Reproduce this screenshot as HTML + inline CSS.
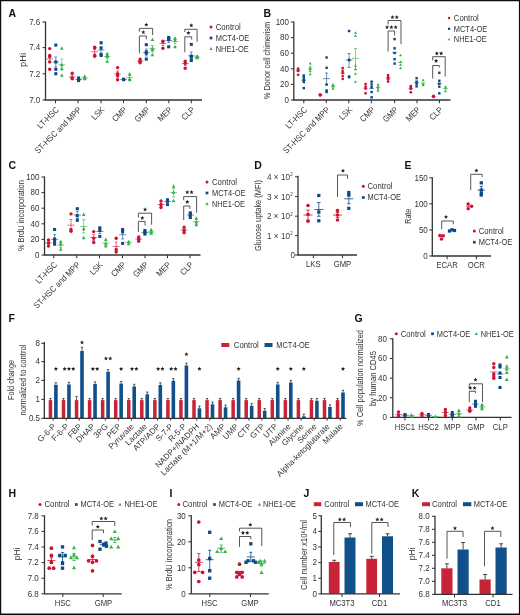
<!DOCTYPE html>
<html><head><meta charset="utf-8"><style>
html,body{margin:0;padding:0;background:#fff;width:520px;height:615px;overflow:hidden}
svg{will-change:transform}
text{font-family:"Liberation Sans", sans-serif}
</style></head><body>
<svg width="520" height="615" viewBox="0 0 520 615" style="display:block">
<rect x="0" y="0" width="520" height="615" fill="#ffffff"/>
<text x="8.5" y="17.2" font-size="10.5" text-anchor="start" font-weight="bold" fill="#111">A</text>
<line x1="45.5" y1="21.5" x2="45.5" y2="100" stroke="#333333" stroke-width="1.3"/>
<line x1="42.5" y1="22" x2="45.5" y2="22" stroke="#333333" stroke-width="1.04"/>
<text x="40.3" y="24.88" font-size="8.6" text-anchor="end" font-weight="normal" fill="#333333" textLength="11.12" lengthAdjust="spacingAndGlyphs">7.6</text>
<line x1="42.5" y1="47.6" x2="45.5" y2="47.6" stroke="#333333" stroke-width="1.04"/>
<text x="40.3" y="50.48" font-size="8.6" text-anchor="end" font-weight="normal" fill="#333333" textLength="11.12" lengthAdjust="spacingAndGlyphs">7.4</text>
<line x1="42.5" y1="73.8" x2="45.5" y2="73.8" stroke="#333333" stroke-width="1.04"/>
<text x="40.3" y="76.68" font-size="8.6" text-anchor="end" font-weight="normal" fill="#333333" textLength="11.12" lengthAdjust="spacingAndGlyphs">7.2</text>
<line x1="42.5" y1="100" x2="45.5" y2="100" stroke="#333333" stroke-width="1.04"/>
<text x="40.3" y="102.88" font-size="8.6" text-anchor="end" font-weight="normal" fill="#333333" textLength="11.12" lengthAdjust="spacingAndGlyphs">7.0</text>
<text x="25.8" y="60" font-size="9" text-anchor="middle" font-weight="normal" fill="#333333" transform="rotate(-90 25.8 60)" textLength="14" lengthAdjust="spacingAndGlyphs">pHi</text>
<line x1="44.85" y1="100" x2="202" y2="100" stroke="#333333" stroke-width="1.3"/>
<line x1="55.5" y1="100" x2="55.5" y2="103.2" stroke="#333333" stroke-width="1.04"/>
<line x1="78" y1="100" x2="78" y2="103.2" stroke="#333333" stroke-width="1.04"/>
<line x1="101" y1="100" x2="101" y2="103.2" stroke="#333333" stroke-width="1.04"/>
<line x1="123.5" y1="100" x2="123.5" y2="103.2" stroke="#333333" stroke-width="1.04"/>
<line x1="146.3" y1="100" x2="146.3" y2="103.2" stroke="#333333" stroke-width="1.04"/>
<line x1="168.8" y1="100" x2="168.8" y2="103.2" stroke="#333333" stroke-width="1.04"/>
<line x1="191.3" y1="100" x2="191.3" y2="103.2" stroke="#333333" stroke-width="1.04"/>
<text x="59.5" y="110.3" font-size="8.6" text-anchor="end" font-weight="normal" fill="#333333" transform="rotate(-45 59.5 110.3)" textLength="26.74" lengthAdjust="spacingAndGlyphs">LT-HSC</text>
<text x="82" y="110.3" font-size="8.6" text-anchor="end" font-weight="normal" fill="#333333" transform="rotate(-45 82 110.3)" textLength="61.89" lengthAdjust="spacingAndGlyphs">ST-HSC and MPP</text>
<text x="105" y="110.3" font-size="8.6" text-anchor="end" font-weight="normal" fill="#333333" transform="rotate(-45 105 110.3)" textLength="14.52" lengthAdjust="spacingAndGlyphs">LSK</text>
<text x="127.5" y="110.3" font-size="8.6" text-anchor="end" font-weight="normal" fill="#333333" transform="rotate(-45 127.5 110.3)" textLength="17.07" lengthAdjust="spacingAndGlyphs">CMP</text>
<text x="150.3" y="110.3" font-size="8.6" text-anchor="end" font-weight="normal" fill="#333333" transform="rotate(-45 150.3 110.3)" textLength="17.49" lengthAdjust="spacingAndGlyphs">GMP</text>
<text x="172.8" y="110.3" font-size="8.6" text-anchor="end" font-weight="normal" fill="#333333" transform="rotate(-45 172.8 110.3)" textLength="16.64" lengthAdjust="spacingAndGlyphs">MEP</text>
<text x="195.3" y="110.3" font-size="8.6" text-anchor="end" font-weight="normal" fill="#333333" transform="rotate(-45 195.3 110.3)" textLength="14.94" lengthAdjust="spacingAndGlyphs">CLP</text>
<line x1="46.4" y1="59" x2="53" y2="59" stroke="#cc1235" stroke-width="0.6"/>
<line x1="49.7" y1="56" x2="49.7" y2="62" stroke="#cc1235" stroke-width="0.6"/>
<line x1="48.3" y1="56" x2="51.1" y2="56" stroke="#cc1235" stroke-width="0.6"/>
<line x1="48.3" y1="62" x2="51.1" y2="62" stroke="#cc1235" stroke-width="0.6"/>
<circle cx="49.7" cy="48.6" r="1.7" fill="#cc1235"/>
<circle cx="49.7" cy="56.7" r="1.7" fill="#cc1235"/>
<circle cx="49.7" cy="61.9" r="1.7" fill="#cc1235"/>
<circle cx="49.7" cy="69.3" r="1.7" fill="#cc1235"/>
<circle cx="49.7" cy="55.5" r="1.7" fill="#cc1235"/>
<line x1="52.5" y1="62" x2="59.1" y2="62" stroke="#0d4a85" stroke-width="0.6"/>
<line x1="55.8" y1="57" x2="55.8" y2="67" stroke="#0d4a85" stroke-width="0.6"/>
<line x1="54.4" y1="57" x2="57.2" y2="57" stroke="#0d4a85" stroke-width="0.6"/>
<line x1="54.4" y1="67" x2="57.2" y2="67" stroke="#0d4a85" stroke-width="0.6"/>
<rect x="54.27" y="43.57" width="3.06" height="3.06" fill="#0d4a85"/>
<rect x="54.27" y="60.47" width="3.06" height="3.06" fill="#0d4a85"/>
<rect x="54.27" y="67.77" width="3.06" height="3.06" fill="#0d4a85"/>
<rect x="54.27" y="72.17" width="3.06" height="3.06" fill="#0d4a85"/>
<line x1="58.5" y1="64.7" x2="65.1" y2="64.7" stroke="#33b04a" stroke-width="0.6"/>
<line x1="61.8" y1="59" x2="61.8" y2="70" stroke="#33b04a" stroke-width="0.6"/>
<line x1="60.4" y1="59" x2="63.2" y2="59" stroke="#33b04a" stroke-width="0.6"/>
<line x1="60.4" y1="70" x2="63.2" y2="70" stroke="#33b04a" stroke-width="0.6"/>
<polygon points="61.8,46.26 59.93,49.65 63.67,49.65" fill="#33b04a"/>
<polygon points="61.8,62.76 59.93,66.15 63.67,66.15" fill="#33b04a"/>
<polygon points="61.8,66.56 59.93,69.95 63.67,69.95" fill="#33b04a"/>
<polygon points="61.8,73.46 59.93,76.85 63.67,76.85" fill="#33b04a"/>
<line x1="68.9" y1="77" x2="75.5" y2="77" stroke="#cc1235" stroke-width="0.6"/>
<line x1="72.2" y1="75.5" x2="72.2" y2="78.5" stroke="#cc1235" stroke-width="0.6"/>
<line x1="70.8" y1="75.5" x2="73.6" y2="75.5" stroke="#cc1235" stroke-width="0.6"/>
<line x1="70.8" y1="78.5" x2="73.6" y2="78.5" stroke="#cc1235" stroke-width="0.6"/>
<circle cx="72.2" cy="73.3" r="1.7" fill="#cc1235"/>
<circle cx="72.2" cy="78" r="1.7" fill="#cc1235"/>
<circle cx="72.2" cy="78.8" r="1.7" fill="#cc1235"/>
<line x1="75.3" y1="79.5" x2="81.9" y2="79.5" stroke="#0d4a85" stroke-width="0.6"/>
<line x1="78.6" y1="78.5" x2="78.6" y2="80.5" stroke="#0d4a85" stroke-width="0.6"/>
<line x1="77.2" y1="78.5" x2="80" y2="78.5" stroke="#0d4a85" stroke-width="0.6"/>
<line x1="77.2" y1="80.5" x2="80" y2="80.5" stroke="#0d4a85" stroke-width="0.6"/>
<rect x="77.07" y="76.47" width="3.06" height="3.06" fill="#0d4a85"/>
<rect x="77.07" y="78.17" width="3.06" height="3.06" fill="#0d4a85"/>
<rect x="77.07" y="79.07" width="3.06" height="3.06" fill="#0d4a85"/>
<rect x="77.07" y="77.47" width="3.06" height="3.06" fill="#0d4a85"/>
<line x1="81.4" y1="78" x2="88" y2="78" stroke="#33b04a" stroke-width="0.6"/>
<line x1="84.7" y1="77" x2="84.7" y2="79" stroke="#33b04a" stroke-width="0.6"/>
<line x1="83.3" y1="77" x2="86.1" y2="77" stroke="#33b04a" stroke-width="0.6"/>
<line x1="83.3" y1="79" x2="86.1" y2="79" stroke="#33b04a" stroke-width="0.6"/>
<polygon points="84.7,74.26 82.83,77.65 86.57,77.65" fill="#33b04a"/>
<polygon points="84.7,76.56 82.83,79.95 86.57,79.95" fill="#33b04a"/>
<polygon points="84.7,76.86 82.83,80.25 86.57,80.25" fill="#33b04a"/>
<line x1="91.4" y1="51.7" x2="98" y2="51.7" stroke="#cc1235" stroke-width="0.6"/>
<line x1="94.7" y1="49" x2="94.7" y2="54" stroke="#cc1235" stroke-width="0.6"/>
<line x1="93.3" y1="49" x2="96.1" y2="49" stroke="#cc1235" stroke-width="0.6"/>
<line x1="93.3" y1="54" x2="96.1" y2="54" stroke="#cc1235" stroke-width="0.6"/>
<circle cx="94.7" cy="47.3" r="1.7" fill="#cc1235"/>
<circle cx="94.7" cy="48" r="1.7" fill="#cc1235"/>
<circle cx="94.7" cy="56.3" r="1.7" fill="#cc1235"/>
<circle cx="94.7" cy="55.5" r="1.7" fill="#cc1235"/>
<line x1="97.8" y1="50" x2="104.4" y2="50" stroke="#0d4a85" stroke-width="0.6"/>
<line x1="101.1" y1="47" x2="101.1" y2="53" stroke="#0d4a85" stroke-width="0.6"/>
<line x1="99.7" y1="47" x2="102.5" y2="47" stroke="#0d4a85" stroke-width="0.6"/>
<line x1="99.7" y1="53" x2="102.5" y2="53" stroke="#0d4a85" stroke-width="0.6"/>
<rect x="99.57" y="41.27" width="3.06" height="3.06" fill="#0d4a85"/>
<rect x="99.57" y="46.47" width="3.06" height="3.06" fill="#0d4a85"/>
<rect x="99.57" y="53.07" width="3.06" height="3.06" fill="#0d4a85"/>
<rect x="99.57" y="53.97" width="3.06" height="3.06" fill="#0d4a85"/>
<line x1="103.9" y1="56.5" x2="110.5" y2="56.5" stroke="#33b04a" stroke-width="0.6"/>
<line x1="107.2" y1="54.5" x2="107.2" y2="58.5" stroke="#33b04a" stroke-width="0.6"/>
<line x1="105.8" y1="54.5" x2="108.6" y2="54.5" stroke="#33b04a" stroke-width="0.6"/>
<line x1="105.8" y1="58.5" x2="108.6" y2="58.5" stroke="#33b04a" stroke-width="0.6"/>
<polygon points="107.2,51.76 105.33,55.15 109.07,55.15" fill="#33b04a"/>
<polygon points="107.2,54.36 105.33,57.75 109.07,57.75" fill="#33b04a"/>
<polygon points="107.2,59.26 105.33,62.65 109.07,62.65" fill="#33b04a"/>
<polygon points="107.2,53.56 105.33,56.95 109.07,56.95" fill="#33b04a"/>
<line x1="114.3" y1="74" x2="120.9" y2="74" stroke="#cc1235" stroke-width="0.6"/>
<line x1="117.6" y1="71" x2="117.6" y2="77" stroke="#cc1235" stroke-width="0.6"/>
<line x1="116.2" y1="71" x2="119" y2="71" stroke="#cc1235" stroke-width="0.6"/>
<line x1="116.2" y1="77" x2="119" y2="77" stroke="#cc1235" stroke-width="0.6"/>
<circle cx="117.6" cy="67.6" r="1.7" fill="#cc1235"/>
<circle cx="117.6" cy="73.7" r="1.7" fill="#cc1235"/>
<circle cx="117.6" cy="75.7" r="1.7" fill="#cc1235"/>
<circle cx="117.6" cy="79.7" r="1.7" fill="#cc1235"/>
<line x1="120.3" y1="79.5" x2="126.9" y2="79.5" stroke="#0d4a85" stroke-width="0.6"/>
<line x1="123.6" y1="79" x2="123.6" y2="80" stroke="#0d4a85" stroke-width="0.6"/>
<line x1="122.2" y1="79" x2="125" y2="79" stroke="#0d4a85" stroke-width="0.6"/>
<line x1="122.2" y1="80" x2="125" y2="80" stroke="#0d4a85" stroke-width="0.6"/>
<rect x="122.07" y="77.67" width="3.06" height="3.06" fill="#0d4a85"/>
<rect x="122.07" y="78.17" width="3.06" height="3.06" fill="#0d4a85"/>
<rect x="122.07" y="77.97" width="3.06" height="3.06" fill="#0d4a85"/>
<line x1="126.4" y1="77.5" x2="133" y2="77.5" stroke="#33b04a" stroke-width="0.6"/>
<line x1="129.7" y1="75.5" x2="129.7" y2="79.5" stroke="#33b04a" stroke-width="0.6"/>
<line x1="128.3" y1="75.5" x2="131.1" y2="75.5" stroke="#33b04a" stroke-width="0.6"/>
<line x1="128.3" y1="79.5" x2="131.1" y2="79.5" stroke="#33b04a" stroke-width="0.6"/>
<polygon points="129.7,72.06 127.83,75.45 131.57,75.45" fill="#33b04a"/>
<polygon points="129.7,76.86 127.83,80.25 131.57,80.25" fill="#33b04a"/>
<polygon points="129.7,77.76 127.83,81.15 131.57,81.15" fill="#33b04a"/>
<line x1="136.8" y1="61" x2="143.4" y2="61" stroke="#cc1235" stroke-width="0.6"/>
<line x1="140.1" y1="60" x2="140.1" y2="62" stroke="#cc1235" stroke-width="0.6"/>
<line x1="138.7" y1="60" x2="141.5" y2="60" stroke="#cc1235" stroke-width="0.6"/>
<line x1="138.7" y1="62" x2="141.5" y2="62" stroke="#cc1235" stroke-width="0.6"/>
<circle cx="140.1" cy="59.1" r="1.7" fill="#cc1235"/>
<circle cx="140.1" cy="61.3" r="1.7" fill="#cc1235"/>
<circle cx="140.1" cy="62.7" r="1.7" fill="#cc1235"/>
<line x1="143" y1="52.6" x2="149.6" y2="52.6" stroke="#0d4a85" stroke-width="0.6"/>
<line x1="146.3" y1="49" x2="146.3" y2="56" stroke="#0d4a85" stroke-width="0.6"/>
<line x1="144.9" y1="49" x2="147.7" y2="49" stroke="#0d4a85" stroke-width="0.6"/>
<line x1="144.9" y1="56" x2="147.7" y2="56" stroke="#0d4a85" stroke-width="0.6"/>
<rect x="144.77" y="43.17" width="3.06" height="3.06" fill="#0d4a85"/>
<rect x="144.77" y="50.37" width="3.06" height="3.06" fill="#0d4a85"/>
<rect x="144.77" y="51.77" width="3.06" height="3.06" fill="#0d4a85"/>
<rect x="144.77" y="57.57" width="3.06" height="3.06" fill="#0d4a85"/>
<line x1="149.1" y1="48.7" x2="155.7" y2="48.7" stroke="#33b04a" stroke-width="0.6"/>
<line x1="152.4" y1="45.5" x2="152.4" y2="52" stroke="#33b04a" stroke-width="0.6"/>
<line x1="151" y1="45.5" x2="153.8" y2="45.5" stroke="#33b04a" stroke-width="0.6"/>
<line x1="151" y1="52" x2="153.8" y2="52" stroke="#33b04a" stroke-width="0.6"/>
<polygon points="152.4,37.66 150.53,41.05 154.27,41.05" fill="#33b04a"/>
<polygon points="152.4,46.36 150.53,49.75 154.27,49.75" fill="#33b04a"/>
<polygon points="152.4,47.76 150.53,51.15 154.27,51.15" fill="#33b04a"/>
<polygon points="152.4,52.86 150.53,56.25 154.27,56.25" fill="#33b04a"/>
<line x1="159.6" y1="43.5" x2="166.2" y2="43.5" stroke="#cc1235" stroke-width="0.6"/>
<line x1="162.9" y1="41.5" x2="162.9" y2="45.5" stroke="#cc1235" stroke-width="0.6"/>
<line x1="161.5" y1="41.5" x2="164.3" y2="41.5" stroke="#cc1235" stroke-width="0.6"/>
<line x1="161.5" y1="45.5" x2="164.3" y2="45.5" stroke="#cc1235" stroke-width="0.6"/>
<circle cx="162.9" cy="41.1" r="1.7" fill="#cc1235"/>
<circle cx="162.9" cy="41.8" r="1.7" fill="#cc1235"/>
<circle cx="162.9" cy="48.3" r="1.7" fill="#cc1235"/>
<line x1="165.4" y1="40.5" x2="172" y2="40.5" stroke="#0d4a85" stroke-width="0.6"/>
<line x1="168.7" y1="38.5" x2="168.7" y2="42.5" stroke="#0d4a85" stroke-width="0.6"/>
<line x1="167.3" y1="38.5" x2="170.1" y2="38.5" stroke="#0d4a85" stroke-width="0.6"/>
<line x1="167.3" y1="42.5" x2="170.1" y2="42.5" stroke="#0d4a85" stroke-width="0.6"/>
<rect x="167.17" y="35.97" width="3.06" height="3.06" fill="#0d4a85"/>
<rect x="167.17" y="38.07" width="3.06" height="3.06" fill="#0d4a85"/>
<rect x="167.17" y="45.27" width="3.06" height="3.06" fill="#0d4a85"/>
<rect x="167.17" y="36.97" width="3.06" height="3.06" fill="#0d4a85"/>
<line x1="171.7" y1="41.5" x2="178.3" y2="41.5" stroke="#33b04a" stroke-width="0.6"/>
<line x1="175" y1="39.5" x2="175" y2="43.5" stroke="#33b04a" stroke-width="0.6"/>
<line x1="173.6" y1="39.5" x2="176.4" y2="39.5" stroke="#33b04a" stroke-width="0.6"/>
<line x1="173.6" y1="43.5" x2="176.4" y2="43.5" stroke="#33b04a" stroke-width="0.6"/>
<polygon points="175,36.26 173.13,39.65 176.87,39.65" fill="#33b04a"/>
<polygon points="175,38.46 173.13,41.85 176.87,41.85" fill="#33b04a"/>
<polygon points="175,44.86 173.13,48.25 176.87,48.25" fill="#33b04a"/>
<line x1="181.9" y1="63.5" x2="188.5" y2="63.5" stroke="#cc1235" stroke-width="0.6"/>
<line x1="185.2" y1="61.5" x2="185.2" y2="65.5" stroke="#cc1235" stroke-width="0.6"/>
<line x1="183.8" y1="61.5" x2="186.6" y2="61.5" stroke="#cc1235" stroke-width="0.6"/>
<line x1="183.8" y1="65.5" x2="186.6" y2="65.5" stroke="#cc1235" stroke-width="0.6"/>
<circle cx="185.2" cy="61.3" r="1.7" fill="#cc1235"/>
<circle cx="185.2" cy="63.4" r="1.7" fill="#cc1235"/>
<circle cx="185.2" cy="68.2" r="1.7" fill="#cc1235"/>
<line x1="188" y1="55.8" x2="194.6" y2="55.8" stroke="#0d4a85" stroke-width="0.6"/>
<line x1="191.3" y1="52" x2="191.3" y2="59.5" stroke="#0d4a85" stroke-width="0.6"/>
<line x1="189.9" y1="52" x2="192.7" y2="52" stroke="#0d4a85" stroke-width="0.6"/>
<line x1="189.9" y1="59.5" x2="192.7" y2="59.5" stroke="#0d4a85" stroke-width="0.6"/>
<rect x="189.77" y="42.87" width="3.06" height="3.06" fill="#0d4a85"/>
<rect x="189.77" y="54.67" width="3.06" height="3.06" fill="#0d4a85"/>
<rect x="189.77" y="55.67" width="3.06" height="3.06" fill="#0d4a85"/>
<rect x="189.77" y="58.97" width="3.06" height="3.06" fill="#0d4a85"/>
<line x1="193.8" y1="57" x2="200.4" y2="57" stroke="#33b04a" stroke-width="0.6"/>
<line x1="197.1" y1="56" x2="197.1" y2="58" stroke="#33b04a" stroke-width="0.6"/>
<line x1="195.7" y1="56" x2="198.5" y2="56" stroke="#33b04a" stroke-width="0.6"/>
<line x1="195.7" y1="58" x2="198.5" y2="58" stroke="#33b04a" stroke-width="0.6"/>
<polygon points="197.1,54.26 195.23,57.65 198.97,57.65" fill="#33b04a"/>
<polygon points="197.1,54.96 195.23,58.35 198.97,58.35" fill="#33b04a"/>
<polygon points="197.1,55.76 195.23,59.15 198.97,59.15" fill="#33b04a"/>
<polyline points="139.4,53.3 139.4,36 146.3,36 146.3,39.3" fill="none" stroke="#444" stroke-width="0.9"/>
<polygon points="143.3,30 143.88,31.4 145.39,31.52 144.24,32.51 144.59,33.98 143.3,33.19 142.01,33.98 142.36,32.51 141.21,31.52 142.72,31.4" fill="#222"/>
<polyline points="139.4,31.7 139.4,28.4 152.6,28.4 152.6,35" fill="none" stroke="#444" stroke-width="0.9"/>
<polygon points="146.3,22.5 146.88,23.9 148.39,24.02 147.24,25.01 147.59,26.48 146.3,25.69 145.01,26.48 145.36,25.01 144.21,24.02 145.72,23.9" fill="#222"/>
<polyline points="184.8,52.3 184.8,36.8 191.7,36.8 191.7,39.6" fill="none" stroke="#444" stroke-width="0.9"/>
<polygon points="188.4,30.7 188.98,32.1 190.49,32.22 189.34,33.21 189.69,34.68 188.4,33.89 187.11,34.68 187.46,33.21 186.31,32.22 187.82,32.1" fill="#222"/>
<polyline points="184.8,32 184.8,29.3 197.1,29.3 197.1,41.8" fill="none" stroke="#444" stroke-width="0.9"/>
<polygon points="191.3,23.2 191.88,24.6 193.39,24.72 192.24,25.71 192.59,27.18 191.3,26.39 190.01,27.18 190.36,25.71 189.21,24.72 190.72,24.6" fill="#222"/>
<circle cx="211" cy="27" r="1.5" fill="#cc1235"/>
<text x="215.7" y="29.88" font-size="8.6" text-anchor="start" font-weight="normal" fill="#333333" textLength="25" lengthAdjust="spacingAndGlyphs">Control</text>
<rect x="209.65" y="36.65" width="2.7" height="2.7" fill="#0d4a85"/>
<text x="215.7" y="40.88" font-size="8.6" text-anchor="start" font-weight="normal" fill="#333333" textLength="33.5" lengthAdjust="spacingAndGlyphs">MCT4-OE</text>
<polygon points="211,47.09 209.35,50.08 212.65,50.08" fill="#33b04a"/>
<text x="215.7" y="51.68" font-size="8.6" text-anchor="start" font-weight="normal" fill="#333333" textLength="33" lengthAdjust="spacingAndGlyphs">NHE1-OE</text>
<text x="263.5" y="17.2" font-size="10.5" text-anchor="start" font-weight="bold" fill="#111">B</text>
<line x1="293.8" y1="21.5" x2="293.8" y2="100" stroke="#333333" stroke-width="1.3"/>
<line x1="290.8" y1="22" x2="293.8" y2="22" stroke="#333333" stroke-width="1.04"/>
<text x="289" y="24.88" font-size="8.6" text-anchor="end" font-weight="normal" fill="#333333" textLength="13.35" lengthAdjust="spacingAndGlyphs">100</text>
<line x1="290.8" y1="37.6" x2="293.8" y2="37.6" stroke="#333333" stroke-width="1.04"/>
<text x="289" y="40.48" font-size="8.6" text-anchor="end" font-weight="normal" fill="#333333" textLength="8.9" lengthAdjust="spacingAndGlyphs">80</text>
<line x1="290.8" y1="53.2" x2="293.8" y2="53.2" stroke="#333333" stroke-width="1.04"/>
<text x="289" y="56.08" font-size="8.6" text-anchor="end" font-weight="normal" fill="#333333" textLength="8.9" lengthAdjust="spacingAndGlyphs">60</text>
<line x1="290.8" y1="68.8" x2="293.8" y2="68.8" stroke="#333333" stroke-width="1.04"/>
<text x="289" y="71.68" font-size="8.6" text-anchor="end" font-weight="normal" fill="#333333" textLength="8.9" lengthAdjust="spacingAndGlyphs">40</text>
<line x1="290.8" y1="84.4" x2="293.8" y2="84.4" stroke="#333333" stroke-width="1.04"/>
<text x="289" y="87.28" font-size="8.6" text-anchor="end" font-weight="normal" fill="#333333" textLength="8.9" lengthAdjust="spacingAndGlyphs">20</text>
<line x1="290.8" y1="100" x2="293.8" y2="100" stroke="#333333" stroke-width="1.04"/>
<text x="289" y="102.88" font-size="8.6" text-anchor="end" font-weight="normal" fill="#333333" textLength="4.45" lengthAdjust="spacingAndGlyphs">0</text>
<text x="269.5" y="60.5" font-size="8.6" text-anchor="middle" font-weight="normal" fill="#333333" transform="rotate(-90 269.5 60.5)" textLength="77" lengthAdjust="spacingAndGlyphs">% Donor cell chimerism</text>
<line x1="293.15" y1="100" x2="450.5" y2="100" stroke="#333333" stroke-width="1.3"/>
<line x1="303.8" y1="100" x2="303.8" y2="103.2" stroke="#333333" stroke-width="1.04"/>
<line x1="326.3" y1="100" x2="326.3" y2="103.2" stroke="#333333" stroke-width="1.04"/>
<line x1="348.8" y1="100" x2="348.8" y2="103.2" stroke="#333333" stroke-width="1.04"/>
<line x1="371.3" y1="100" x2="371.3" y2="103.2" stroke="#333333" stroke-width="1.04"/>
<line x1="394.6" y1="100" x2="394.6" y2="103.2" stroke="#333333" stroke-width="1.04"/>
<line x1="417" y1="100" x2="417" y2="103.2" stroke="#333333" stroke-width="1.04"/>
<line x1="439.4" y1="100" x2="439.4" y2="103.2" stroke="#333333" stroke-width="1.04"/>
<text x="307.8" y="110.3" font-size="8.6" text-anchor="end" font-weight="normal" fill="#333333" transform="rotate(-45 307.8 110.3)" textLength="26.74" lengthAdjust="spacingAndGlyphs">LT-HSC</text>
<text x="330.3" y="110.3" font-size="8.6" text-anchor="end" font-weight="normal" fill="#333333" transform="rotate(-45 330.3 110.3)" textLength="61.89" lengthAdjust="spacingAndGlyphs">ST-HSC and MPP</text>
<text x="352.8" y="110.3" font-size="8.6" text-anchor="end" font-weight="normal" fill="#333333" transform="rotate(-45 352.8 110.3)" textLength="14.52" lengthAdjust="spacingAndGlyphs">LSK</text>
<text x="375.3" y="110.3" font-size="8.6" text-anchor="end" font-weight="normal" fill="#333333" transform="rotate(-45 375.3 110.3)" textLength="17.07" lengthAdjust="spacingAndGlyphs">CMP</text>
<text x="398.6" y="110.3" font-size="8.6" text-anchor="end" font-weight="normal" fill="#333333" transform="rotate(-45 398.6 110.3)" textLength="17.49" lengthAdjust="spacingAndGlyphs">GMP</text>
<text x="421" y="110.3" font-size="8.6" text-anchor="end" font-weight="normal" fill="#333333" transform="rotate(-45 421 110.3)" textLength="16.64" lengthAdjust="spacingAndGlyphs">MEP</text>
<text x="443.4" y="110.3" font-size="8.6" text-anchor="end" font-weight="normal" fill="#333333" transform="rotate(-45 443.4 110.3)" textLength="14.94" lengthAdjust="spacingAndGlyphs">CLP</text>
<line x1="295.9" y1="70.95" x2="300.3" y2="70.95" stroke="#cc1235" stroke-width="0.7"/>
<circle cx="298.1" cy="68.7" r="1.35" fill="#cc1235"/>
<circle cx="298.1" cy="70.8" r="1.35" fill="#cc1235"/>
<circle cx="298.1" cy="74.8" r="1.35" fill="#cc1235"/>
<circle cx="298.1" cy="69.5" r="1.35" fill="#cc1235"/>
<line x1="301.6" y1="80.2" x2="306" y2="80.2" stroke="#0d4a85" stroke-width="0.7"/>
<rect x="302.59" y="75.28" width="2.43" height="2.43" fill="#0d4a85"/>
<rect x="302.59" y="77.38" width="2.43" height="2.43" fill="#0d4a85"/>
<rect x="302.59" y="79.28" width="2.43" height="2.43" fill="#0d4a85"/>
<rect x="302.59" y="80.78" width="2.43" height="2.43" fill="#0d4a85"/>
<rect x="302.59" y="86.88" width="2.43" height="2.43" fill="#0d4a85"/>
<rect x="302.59" y="74.28" width="2.43" height="2.43" fill="#0d4a85"/>
<line x1="308" y1="68.92" x2="312.4" y2="68.92" stroke="#33b04a" stroke-width="0.7"/>
<polygon points="310.2,61.76 308.71,64.45 311.69,64.45" fill="#33b04a"/>
<polygon points="310.2,67.56 308.71,70.25 311.69,70.25" fill="#33b04a"/>
<polygon points="310.2,69.46 308.71,72.15 311.69,72.15" fill="#33b04a"/>
<polygon points="310.2,72.66 308.71,75.35 311.69,75.35" fill="#33b04a"/>
<polygon points="310.2,65.46 308.71,68.15 311.69,68.15" fill="#33b04a"/>
<line x1="318" y1="94.95" x2="322.4" y2="94.95" stroke="#cc1235" stroke-width="0.7"/>
<circle cx="320.2" cy="94.5" r="1.35" fill="#cc1235"/>
<circle cx="320.2" cy="95.5" r="1.35" fill="#cc1235"/>
<circle cx="320.2" cy="95" r="1.35" fill="#cc1235"/>
<circle cx="320.2" cy="94.8" r="1.35" fill="#cc1235"/>
<line x1="323.1" y1="78.6" x2="330.1" y2="78.6" stroke="#0d4a85" stroke-width="0.6"/>
<line x1="326.6" y1="73" x2="326.6" y2="84.5" stroke="#0d4a85" stroke-width="0.6"/>
<line x1="325.1" y1="73" x2="328.1" y2="73" stroke="#0d4a85" stroke-width="0.6"/>
<line x1="325.1" y1="84.5" x2="328.1" y2="84.5" stroke="#0d4a85" stroke-width="0.6"/>
<rect x="325.39" y="56.28" width="2.43" height="2.43" fill="#0d4a85"/>
<rect x="325.39" y="66.58" width="2.43" height="2.43" fill="#0d4a85"/>
<rect x="325.39" y="83.38" width="2.43" height="2.43" fill="#0d4a85"/>
<rect x="325.39" y="90.78" width="2.43" height="2.43" fill="#0d4a85"/>
<rect x="325.39" y="89.28" width="2.43" height="2.43" fill="#0d4a85"/>
<line x1="330.8" y1="86.28" x2="335.2" y2="86.28" stroke="#33b04a" stroke-width="0.7"/>
<polygon points="333,83.06 331.51,85.75 334.49,85.75" fill="#33b04a"/>
<polygon points="333,84.86 331.51,87.55 334.49,87.55" fill="#33b04a"/>
<polygon points="333,87.06 331.51,89.75 334.49,89.75" fill="#33b04a"/>
<polygon points="333,83.96 331.51,86.65 334.49,86.65" fill="#33b04a"/>
<line x1="340.5" y1="73.42" x2="344.9" y2="73.42" stroke="#cc1235" stroke-width="0.7"/>
<circle cx="342.7" cy="68.2" r="1.35" fill="#cc1235"/>
<circle cx="342.7" cy="71" r="1.35" fill="#cc1235"/>
<circle cx="342.7" cy="73" r="1.35" fill="#cc1235"/>
<circle cx="342.7" cy="76" r="1.35" fill="#cc1235"/>
<circle cx="342.7" cy="78.9" r="1.35" fill="#cc1235"/>
<line x1="345.6" y1="60" x2="352.6" y2="60" stroke="#0d4a85" stroke-width="0.6"/>
<line x1="349.1" y1="53.5" x2="349.1" y2="67.5" stroke="#0d4a85" stroke-width="0.6"/>
<line x1="347.6" y1="53.5" x2="350.6" y2="53.5" stroke="#0d4a85" stroke-width="0.6"/>
<line x1="347.6" y1="67.5" x2="350.6" y2="67.5" stroke="#0d4a85" stroke-width="0.6"/>
<rect x="347.89" y="29.79" width="2.43" height="2.43" fill="#0d4a85"/>
<rect x="347.89" y="58.78" width="2.43" height="2.43" fill="#0d4a85"/>
<rect x="347.89" y="58.78" width="2.43" height="2.43" fill="#0d4a85"/>
<rect x="347.89" y="75.98" width="2.43" height="2.43" fill="#0d4a85"/>
<rect x="347.89" y="75.28" width="2.43" height="2.43" fill="#0d4a85"/>
<line x1="352" y1="58.3" x2="359" y2="58.3" stroke="#33b04a" stroke-width="0.6"/>
<line x1="355.5" y1="48.5" x2="355.5" y2="69.5" stroke="#33b04a" stroke-width="0.6"/>
<line x1="354" y1="48.5" x2="357" y2="48.5" stroke="#33b04a" stroke-width="0.6"/>
<line x1="354" y1="69.5" x2="357" y2="69.5" stroke="#33b04a" stroke-width="0.6"/>
<polygon points="355.5,31.16 354.01,33.85 356.99,33.85" fill="#33b04a"/>
<polygon points="355.5,34.26 354.01,36.95 356.99,36.95" fill="#33b04a"/>
<polygon points="355.5,63.96 354.01,66.65 356.99,66.65" fill="#33b04a"/>
<polygon points="355.5,67.56 354.01,70.25 356.99,70.25" fill="#33b04a"/>
<polygon points="355.5,72.16 354.01,74.85 356.99,74.85" fill="#33b04a"/>
<polygon points="355.5,80.16 354.01,82.85 356.99,82.85" fill="#33b04a"/>
<line x1="363.4" y1="88.12" x2="367.8" y2="88.12" stroke="#cc1235" stroke-width="0.7"/>
<circle cx="365.6" cy="84.1" r="1.35" fill="#cc1235"/>
<circle cx="365.6" cy="86.5" r="1.35" fill="#cc1235"/>
<circle cx="365.6" cy="88.6" r="1.35" fill="#cc1235"/>
<circle cx="365.6" cy="93.3" r="1.35" fill="#cc1235"/>
<line x1="369.4" y1="88.54" x2="373.8" y2="88.54" stroke="#0d4a85" stroke-width="0.7"/>
<rect x="370.39" y="80.48" width="2.43" height="2.43" fill="#0d4a85"/>
<rect x="370.39" y="83.28" width="2.43" height="2.43" fill="#0d4a85"/>
<rect x="370.39" y="85.98" width="2.43" height="2.43" fill="#0d4a85"/>
<rect x="370.39" y="90.78" width="2.43" height="2.43" fill="#0d4a85"/>
<rect x="370.39" y="96.08" width="2.43" height="2.43" fill="#0d4a85"/>
<line x1="375.8" y1="87.58" x2="380.2" y2="87.58" stroke="#33b04a" stroke-width="0.7"/>
<polygon points="378,83.06 376.51,85.75 379.49,85.75" fill="#33b04a"/>
<polygon points="378,84.96 376.51,87.65 379.49,87.65" fill="#33b04a"/>
<polygon points="378,86.96 376.51,89.65 379.49,89.65" fill="#33b04a"/>
<polygon points="378,89.16 376.51,91.85 379.49,91.85" fill="#33b04a"/>
<line x1="385.9" y1="78.3" x2="390.3" y2="78.3" stroke="#cc1235" stroke-width="0.7"/>
<circle cx="388.1" cy="75" r="1.35" fill="#cc1235"/>
<circle cx="388.1" cy="77.2" r="1.35" fill="#cc1235"/>
<circle cx="388.1" cy="79.4" r="1.35" fill="#cc1235"/>
<circle cx="388.1" cy="81.6" r="1.35" fill="#cc1235"/>
<line x1="392.4" y1="52.64" x2="396.8" y2="52.64" stroke="#0d4a85" stroke-width="0.7"/>
<rect x="393.39" y="37.88" width="2.43" height="2.43" fill="#0d4a85"/>
<rect x="393.39" y="47.08" width="2.43" height="2.43" fill="#0d4a85"/>
<rect x="393.39" y="51.78" width="2.43" height="2.43" fill="#0d4a85"/>
<rect x="393.39" y="57.98" width="2.43" height="2.43" fill="#0d4a85"/>
<rect x="393.39" y="62.38" width="2.43" height="2.43" fill="#0d4a85"/>
<line x1="398.3" y1="62.42" x2="402.7" y2="62.42" stroke="#33b04a" stroke-width="0.7"/>
<polygon points="400.5,53.66 399.01,56.35 401.99,56.35" fill="#33b04a"/>
<polygon points="400.5,60.26 399.01,62.95 401.99,62.95" fill="#33b04a"/>
<polygon points="400.5,63.16 399.01,65.85 401.99,65.85" fill="#33b04a"/>
<polygon points="400.5,66.46 399.01,69.15 401.99,69.15" fill="#33b04a"/>
<line x1="408.6" y1="88.67" x2="413" y2="88.67" stroke="#cc1235" stroke-width="0.7"/>
<circle cx="410.8" cy="86" r="1.35" fill="#cc1235"/>
<circle cx="410.8" cy="87.4" r="1.35" fill="#cc1235"/>
<circle cx="410.8" cy="89" r="1.35" fill="#cc1235"/>
<circle cx="410.8" cy="92.3" r="1.35" fill="#cc1235"/>
<line x1="414.4" y1="82.5" x2="418.8" y2="82.5" stroke="#0d4a85" stroke-width="0.7"/>
<rect x="415.39" y="76.98" width="2.43" height="2.43" fill="#0d4a85"/>
<rect x="415.39" y="80.38" width="2.43" height="2.43" fill="#0d4a85"/>
<rect x="415.39" y="82.58" width="2.43" height="2.43" fill="#0d4a85"/>
<rect x="415.39" y="85.19" width="2.43" height="2.43" fill="#0d4a85"/>
<line x1="421" y1="83.03" x2="425.4" y2="83.03" stroke="#33b04a" stroke-width="0.7"/>
<polygon points="423.2,78.56 421.71,81.25 424.69,81.25" fill="#33b04a"/>
<polygon points="423.2,82.26 421.71,84.95 424.69,84.95" fill="#33b04a"/>
<polygon points="423.2,83.66 421.71,86.35 424.69,86.35" fill="#33b04a"/>
<line x1="431.3" y1="96.43" x2="435.7" y2="96.43" stroke="#cc1235" stroke-width="0.7"/>
<circle cx="433.5" cy="95.8" r="1.35" fill="#cc1235"/>
<circle cx="433.5" cy="97" r="1.35" fill="#cc1235"/>
<circle cx="433.5" cy="96.5" r="1.35" fill="#cc1235"/>
<line x1="437.1" y1="83.48" x2="441.5" y2="83.48" stroke="#0d4a85" stroke-width="0.7"/>
<rect x="438.09" y="71.58" width="2.43" height="2.43" fill="#0d4a85"/>
<rect x="438.09" y="79.58" width="2.43" height="2.43" fill="#0d4a85"/>
<rect x="438.09" y="82.58" width="2.43" height="2.43" fill="#0d4a85"/>
<rect x="438.09" y="85.48" width="2.43" height="2.43" fill="#0d4a85"/>
<rect x="438.09" y="92.08" width="2.43" height="2.43" fill="#0d4a85"/>
<line x1="443.3" y1="88.67" x2="447.7" y2="88.67" stroke="#33b04a" stroke-width="0.7"/>
<polygon points="445.5,85.16 444.01,87.85 446.99,87.85" fill="#33b04a"/>
<polygon points="445.5,86.66 444.01,89.35 446.99,89.35" fill="#33b04a"/>
<polygon points="445.5,89.56 444.01,92.25 446.99,92.25" fill="#33b04a"/>
<polyline points="388.1,51.5 388.1,31 394.6,31 394.6,35.4" fill="none" stroke="#444" stroke-width="0.9"/>
<polygon points="387.1,25.1 387.68,26.5 389.19,26.62 388.04,27.61 388.39,29.08 387.1,28.29 385.81,29.08 386.16,27.61 385.01,26.62 386.52,26.5" fill="#222"/>
<polygon points="391.4,25.1 391.98,26.5 393.49,26.62 392.34,27.61 392.69,29.08 391.4,28.29 390.11,29.08 390.46,27.61 389.31,26.62 390.82,26.5" fill="#222"/>
<polygon points="395.7,25.1 396.28,26.5 397.79,26.62 396.64,27.61 396.99,29.08 395.7,28.29 394.41,29.08 394.76,27.61 393.61,26.62 395.12,26.5" fill="#222"/>
<polyline points="388.1,24.5 388.1,20.5 401,20.5 401,44.2" fill="none" stroke="#444" stroke-width="0.9"/>
<polygon points="392.45,15.1 393.03,16.5 394.54,16.62 393.39,17.61 393.74,19.08 392.45,18.29 391.16,19.08 391.51,17.61 390.36,16.62 391.87,16.5" fill="#222"/>
<polygon points="396.75,15.1 397.33,16.5 398.84,16.62 397.69,17.61 398.04,19.08 396.75,18.29 395.46,19.08 395.81,17.61 394.66,16.62 396.17,16.5" fill="#222"/>
<polyline points="432.7,78.6 432.7,65.5 439.3,65.5 439.3,67.4" fill="none" stroke="#444" stroke-width="0.9"/>
<polygon points="436.1,58.7 436.68,60.1 438.19,60.22 437.04,61.21 437.39,62.68 436.1,61.89 434.81,62.68 435.16,61.21 434.01,60.22 435.52,60.1" fill="#222"/>
<polyline points="432.7,60.3 432.7,56.7 445.2,56.7 445.2,76.5" fill="none" stroke="#444" stroke-width="0.9"/>
<polygon points="436.85,51.2 437.43,52.6 438.94,52.72 437.79,53.71 438.14,55.18 436.85,54.39 435.56,55.18 435.91,53.71 434.76,52.72 436.27,52.6" fill="#222"/>
<polygon points="441.15,51.2 441.73,52.6 443.24,52.72 442.09,53.71 442.44,55.18 441.15,54.39 439.86,55.18 440.21,53.71 439.06,52.72 440.57,52.6" fill="#222"/>
<circle cx="449.1" cy="18" r="1.2" fill="#cc1235"/>
<text x="453.8" y="20.88" font-size="8.6" text-anchor="start" font-weight="normal" fill="#333333" textLength="25" lengthAdjust="spacingAndGlyphs">Control</text>
<rect x="448.02" y="27.72" width="2.16" height="2.16" fill="#0d4a85"/>
<text x="453.8" y="31.68" font-size="8.6" text-anchor="start" font-weight="normal" fill="#333333" textLength="33.5" lengthAdjust="spacingAndGlyphs">MCT4-OE</text>
<polygon points="449.1,37.93 447.78,40.33 450.42,40.33" fill="#33b04a"/>
<text x="453.8" y="42.18" font-size="8.6" text-anchor="start" font-weight="normal" fill="#333333" textLength="33" lengthAdjust="spacingAndGlyphs">NHE1-OE</text>
<text x="8.5" y="169.2" font-size="10.5" text-anchor="start" font-weight="bold" fill="#111">C</text>
<line x1="44.5" y1="176.5" x2="44.5" y2="255" stroke="#333333" stroke-width="1.3"/>
<line x1="41.5" y1="177" x2="44.5" y2="177" stroke="#333333" stroke-width="1.04"/>
<text x="39.5" y="179.88" font-size="8.6" text-anchor="end" font-weight="normal" fill="#333333" textLength="13.35" lengthAdjust="spacingAndGlyphs">100</text>
<line x1="41.5" y1="192.6" x2="44.5" y2="192.6" stroke="#333333" stroke-width="1.04"/>
<text x="39.5" y="195.48" font-size="8.6" text-anchor="end" font-weight="normal" fill="#333333" textLength="8.9" lengthAdjust="spacingAndGlyphs">80</text>
<line x1="41.5" y1="208.2" x2="44.5" y2="208.2" stroke="#333333" stroke-width="1.04"/>
<text x="39.5" y="211.08" font-size="8.6" text-anchor="end" font-weight="normal" fill="#333333" textLength="8.9" lengthAdjust="spacingAndGlyphs">60</text>
<line x1="41.5" y1="223.8" x2="44.5" y2="223.8" stroke="#333333" stroke-width="1.04"/>
<text x="39.5" y="226.68" font-size="8.6" text-anchor="end" font-weight="normal" fill="#333333" textLength="8.9" lengthAdjust="spacingAndGlyphs">40</text>
<line x1="41.5" y1="239.4" x2="44.5" y2="239.4" stroke="#333333" stroke-width="1.04"/>
<text x="39.5" y="242.28" font-size="8.6" text-anchor="end" font-weight="normal" fill="#333333" textLength="8.9" lengthAdjust="spacingAndGlyphs">20</text>
<line x1="41.5" y1="255" x2="44.5" y2="255" stroke="#333333" stroke-width="1.04"/>
<text x="39.5" y="257.88" font-size="8.6" text-anchor="end" font-weight="normal" fill="#333333" textLength="4.45" lengthAdjust="spacingAndGlyphs">0</text>
<text x="24" y="215.6" font-size="8.6" text-anchor="middle" font-weight="normal" fill="#333333" transform="rotate(-90 24 215.6)" textLength="71" lengthAdjust="spacingAndGlyphs">% BrdU incorporation</text>
<line x1="43.85" y1="255" x2="200.5" y2="255" stroke="#333333" stroke-width="1.3"/>
<line x1="53.8" y1="255" x2="53.8" y2="258.2" stroke="#333333" stroke-width="1.04"/>
<line x1="76.8" y1="255" x2="76.8" y2="258.2" stroke="#333333" stroke-width="1.04"/>
<line x1="99.5" y1="255" x2="99.5" y2="258.2" stroke="#333333" stroke-width="1.04"/>
<line x1="122.5" y1="255" x2="122.5" y2="258.2" stroke="#333333" stroke-width="1.04"/>
<line x1="145" y1="255" x2="145" y2="258.2" stroke="#333333" stroke-width="1.04"/>
<line x1="167.5" y1="255" x2="167.5" y2="258.2" stroke="#333333" stroke-width="1.04"/>
<line x1="190" y1="255" x2="190" y2="258.2" stroke="#333333" stroke-width="1.04"/>
<text x="57.8" y="265.3" font-size="8.6" text-anchor="end" font-weight="normal" fill="#333333" transform="rotate(-45 57.8 265.3)" textLength="26.74" lengthAdjust="spacingAndGlyphs">LT-HSC</text>
<text x="80.8" y="265.3" font-size="8.6" text-anchor="end" font-weight="normal" fill="#333333" transform="rotate(-45 80.8 265.3)" textLength="61.89" lengthAdjust="spacingAndGlyphs">ST-HSC and MPP</text>
<text x="103.5" y="265.3" font-size="8.6" text-anchor="end" font-weight="normal" fill="#333333" transform="rotate(-45 103.5 265.3)" textLength="14.52" lengthAdjust="spacingAndGlyphs">LSK</text>
<text x="126.5" y="265.3" font-size="8.6" text-anchor="end" font-weight="normal" fill="#333333" transform="rotate(-45 126.5 265.3)" textLength="17.07" lengthAdjust="spacingAndGlyphs">CMP</text>
<text x="149" y="265.3" font-size="8.6" text-anchor="end" font-weight="normal" fill="#333333" transform="rotate(-45 149 265.3)" textLength="17.49" lengthAdjust="spacingAndGlyphs">GMP</text>
<text x="171.5" y="265.3" font-size="8.6" text-anchor="end" font-weight="normal" fill="#333333" transform="rotate(-45 171.5 265.3)" textLength="16.64" lengthAdjust="spacingAndGlyphs">MEP</text>
<text x="194" y="265.3" font-size="8.6" text-anchor="end" font-weight="normal" fill="#333333" transform="rotate(-45 194 265.3)" textLength="14.94" lengthAdjust="spacingAndGlyphs">CLP</text>
<line x1="45" y1="243" x2="52" y2="243" stroke="#cc1235" stroke-width="0.6"/>
<line x1="48.5" y1="241" x2="48.5" y2="245.5" stroke="#cc1235" stroke-width="0.6"/>
<line x1="47.1" y1="241" x2="49.9" y2="241" stroke="#cc1235" stroke-width="0.6"/>
<line x1="47.1" y1="245.5" x2="49.9" y2="245.5" stroke="#cc1235" stroke-width="0.6"/>
<circle cx="48.5" cy="239.9" r="1.7" fill="#cc1235"/>
<circle cx="48.5" cy="243" r="1.7" fill="#cc1235"/>
<circle cx="48.5" cy="246" r="1.7" fill="#cc1235"/>
<line x1="51.1" y1="239.4" x2="58.1" y2="239.4" stroke="#0d4a85" stroke-width="0.6"/>
<line x1="54.6" y1="234.5" x2="54.6" y2="244" stroke="#0d4a85" stroke-width="0.6"/>
<line x1="53.2" y1="234.5" x2="56" y2="234.5" stroke="#0d4a85" stroke-width="0.6"/>
<line x1="53.2" y1="244" x2="56" y2="244" stroke="#0d4a85" stroke-width="0.6"/>
<rect x="53.07" y="227.97" width="3.06" height="3.06" fill="#0d4a85"/>
<rect x="53.07" y="237.47" width="3.06" height="3.06" fill="#0d4a85"/>
<rect x="53.07" y="240.07" width="3.06" height="3.06" fill="#0d4a85"/>
<rect x="53.07" y="242.67" width="3.06" height="3.06" fill="#0d4a85"/>
<line x1="57.2" y1="245" x2="64.2" y2="245" stroke="#33b04a" stroke-width="0.6"/>
<line x1="60.7" y1="243" x2="60.7" y2="247.5" stroke="#33b04a" stroke-width="0.6"/>
<line x1="59.3" y1="243" x2="62.1" y2="243" stroke="#33b04a" stroke-width="0.6"/>
<line x1="59.3" y1="247.5" x2="62.1" y2="247.5" stroke="#33b04a" stroke-width="0.6"/>
<polygon points="60.7,239.66 58.83,243.05 62.57,243.05" fill="#33b04a"/>
<polygon points="60.7,242.26 58.83,245.65 62.57,245.65" fill="#33b04a"/>
<polygon points="60.7,247.46 58.83,250.85 62.57,250.85" fill="#33b04a"/>
<line x1="67.5" y1="225.2" x2="74.5" y2="225.2" stroke="#cc1235" stroke-width="0.6"/>
<line x1="71" y1="219.5" x2="71" y2="230.5" stroke="#cc1235" stroke-width="0.6"/>
<line x1="69.6" y1="219.5" x2="72.4" y2="219.5" stroke="#cc1235" stroke-width="0.6"/>
<line x1="69.6" y1="230.5" x2="72.4" y2="230.5" stroke="#cc1235" stroke-width="0.6"/>
<circle cx="71" cy="213.9" r="1.7" fill="#cc1235"/>
<circle cx="71" cy="229.5" r="1.7" fill="#cc1235"/>
<circle cx="71" cy="231.2" r="1.7" fill="#cc1235"/>
<line x1="73.8" y1="215" x2="80.8" y2="215" stroke="#0d4a85" stroke-width="0.6"/>
<line x1="77.3" y1="211.5" x2="77.3" y2="218.5" stroke="#0d4a85" stroke-width="0.6"/>
<line x1="75.9" y1="211.5" x2="78.7" y2="211.5" stroke="#0d4a85" stroke-width="0.6"/>
<line x1="75.9" y1="218.5" x2="78.7" y2="218.5" stroke="#0d4a85" stroke-width="0.6"/>
<rect x="75.77" y="207.17" width="3.06" height="3.06" fill="#0d4a85"/>
<rect x="75.77" y="214.17" width="3.06" height="3.06" fill="#0d4a85"/>
<rect x="75.77" y="218.77" width="3.06" height="3.06" fill="#0d4a85"/>
<line x1="80.2" y1="226.4" x2="87.2" y2="226.4" stroke="#33b04a" stroke-width="0.6"/>
<line x1="83.7" y1="219.5" x2="83.7" y2="233" stroke="#33b04a" stroke-width="0.6"/>
<line x1="82.3" y1="219.5" x2="85.1" y2="219.5" stroke="#33b04a" stroke-width="0.6"/>
<line x1="82.3" y1="233" x2="85.1" y2="233" stroke="#33b04a" stroke-width="0.6"/>
<polygon points="83.7,212.56 81.83,215.95 85.57,215.95" fill="#33b04a"/>
<polygon points="83.7,226.76 81.83,230.15 85.57,230.15" fill="#33b04a"/>
<polygon points="83.7,235.76 81.83,239.15 85.57,239.15" fill="#33b04a"/>
<line x1="90.2" y1="237.5" x2="97.2" y2="237.5" stroke="#cc1235" stroke-width="0.6"/>
<line x1="93.7" y1="234.5" x2="93.7" y2="240.5" stroke="#cc1235" stroke-width="0.6"/>
<line x1="92.3" y1="234.5" x2="95.1" y2="234.5" stroke="#cc1235" stroke-width="0.6"/>
<line x1="92.3" y1="240.5" x2="95.1" y2="240.5" stroke="#cc1235" stroke-width="0.6"/>
<circle cx="93.7" cy="231.6" r="1.7" fill="#cc1235"/>
<circle cx="93.7" cy="238.2" r="1.7" fill="#cc1235"/>
<circle cx="93.7" cy="242.5" r="1.7" fill="#cc1235"/>
<line x1="96.3" y1="231.5" x2="103.3" y2="231.5" stroke="#0d4a85" stroke-width="0.6"/>
<line x1="99.8" y1="229.5" x2="99.8" y2="233.5" stroke="#0d4a85" stroke-width="0.6"/>
<line x1="98.4" y1="229.5" x2="101.2" y2="229.5" stroke="#0d4a85" stroke-width="0.6"/>
<line x1="98.4" y1="233.5" x2="101.2" y2="233.5" stroke="#0d4a85" stroke-width="0.6"/>
<rect x="98.27" y="226.27" width="3.06" height="3.06" fill="#0d4a85"/>
<rect x="98.27" y="228.87" width="3.06" height="3.06" fill="#0d4a85"/>
<rect x="98.27" y="234.87" width="3.06" height="3.06" fill="#0d4a85"/>
<line x1="102.3" y1="243" x2="109.3" y2="243" stroke="#33b04a" stroke-width="0.6"/>
<line x1="105.8" y1="240.5" x2="105.8" y2="245.5" stroke="#33b04a" stroke-width="0.6"/>
<line x1="104.4" y1="240.5" x2="107.2" y2="240.5" stroke="#33b04a" stroke-width="0.6"/>
<line x1="104.4" y1="245.5" x2="107.2" y2="245.5" stroke="#33b04a" stroke-width="0.6"/>
<polygon points="105.8,237.46 103.93,240.85 107.67,240.85" fill="#33b04a"/>
<polygon points="105.8,241.46 103.93,244.85 107.67,244.85" fill="#33b04a"/>
<polygon points="105.8,244.06 103.93,247.45 107.67,247.45" fill="#33b04a"/>
<line x1="112.7" y1="246.5" x2="119.7" y2="246.5" stroke="#cc1235" stroke-width="0.6"/>
<line x1="116.2" y1="242" x2="116.2" y2="251" stroke="#cc1235" stroke-width="0.6"/>
<line x1="114.8" y1="242" x2="117.6" y2="242" stroke="#cc1235" stroke-width="0.6"/>
<line x1="114.8" y1="251" x2="117.6" y2="251" stroke="#cc1235" stroke-width="0.6"/>
<circle cx="116.2" cy="238.2" r="1.7" fill="#cc1235"/>
<circle cx="116.2" cy="249.4" r="1.7" fill="#cc1235"/>
<circle cx="116.2" cy="252" r="1.7" fill="#cc1235"/>
<line x1="119.1" y1="234.7" x2="126.1" y2="234.7" stroke="#0d4a85" stroke-width="0.6"/>
<line x1="122.6" y1="230.5" x2="122.6" y2="239" stroke="#0d4a85" stroke-width="0.6"/>
<line x1="121.2" y1="230.5" x2="124" y2="230.5" stroke="#0d4a85" stroke-width="0.6"/>
<line x1="121.2" y1="239" x2="124" y2="239" stroke="#0d4a85" stroke-width="0.6"/>
<rect x="121.07" y="227.97" width="3.06" height="3.06" fill="#0d4a85"/>
<rect x="121.07" y="230.27" width="3.06" height="3.06" fill="#0d4a85"/>
<rect x="121.07" y="241.87" width="3.06" height="3.06" fill="#0d4a85"/>
<line x1="125.2" y1="242.7" x2="132.2" y2="242.7" stroke="#33b04a" stroke-width="0.6"/>
<line x1="128.7" y1="241.7" x2="128.7" y2="243.7" stroke="#33b04a" stroke-width="0.6"/>
<line x1="127.3" y1="241.7" x2="130.1" y2="241.7" stroke="#33b04a" stroke-width="0.6"/>
<line x1="127.3" y1="243.7" x2="130.1" y2="243.7" stroke="#33b04a" stroke-width="0.6"/>
<polygon points="128.7,239.66 126.83,243.05 130.57,243.05" fill="#33b04a"/>
<polygon points="128.7,241.96 126.83,245.35 130.57,245.35" fill="#33b04a"/>
<line x1="135.2" y1="239" x2="142.2" y2="239" stroke="#cc1235" stroke-width="0.6"/>
<line x1="138.7" y1="238" x2="138.7" y2="240" stroke="#cc1235" stroke-width="0.6"/>
<line x1="137.3" y1="238" x2="140.1" y2="238" stroke="#cc1235" stroke-width="0.6"/>
<line x1="137.3" y1="240" x2="140.1" y2="240" stroke="#cc1235" stroke-width="0.6"/>
<circle cx="138.7" cy="237" r="1.7" fill="#cc1235"/>
<circle cx="138.7" cy="239.2" r="1.7" fill="#cc1235"/>
<circle cx="138.7" cy="241.3" r="1.7" fill="#cc1235"/>
<line x1="141.4" y1="232.4" x2="148.4" y2="232.4" stroke="#0d4a85" stroke-width="0.6"/>
<line x1="144.9" y1="231.5" x2="144.9" y2="233.3" stroke="#0d4a85" stroke-width="0.6"/>
<line x1="143.5" y1="231.5" x2="146.3" y2="231.5" stroke="#0d4a85" stroke-width="0.6"/>
<line x1="143.5" y1="233.3" x2="146.3" y2="233.3" stroke="#0d4a85" stroke-width="0.6"/>
<rect x="143.37" y="228.97" width="3.06" height="3.06" fill="#0d4a85"/>
<rect x="143.37" y="230.87" width="3.06" height="3.06" fill="#0d4a85"/>
<rect x="143.37" y="232.57" width="3.06" height="3.06" fill="#0d4a85"/>
<line x1="147.7" y1="232" x2="154.7" y2="232" stroke="#33b04a" stroke-width="0.6"/>
<line x1="151.2" y1="231" x2="151.2" y2="233" stroke="#33b04a" stroke-width="0.6"/>
<line x1="149.8" y1="231" x2="152.6" y2="231" stroke="#33b04a" stroke-width="0.6"/>
<line x1="149.8" y1="233" x2="152.6" y2="233" stroke="#33b04a" stroke-width="0.6"/>
<polygon points="151.2,227.86 149.33,231.25 153.07,231.25" fill="#33b04a"/>
<polygon points="151.2,230.06 149.33,233.45 153.07,233.45" fill="#33b04a"/>
<polygon points="151.2,231.46 149.33,234.85 153.07,234.85" fill="#33b04a"/>
<line x1="157.5" y1="204.5" x2="164.5" y2="204.5" stroke="#cc1235" stroke-width="0.6"/>
<line x1="161" y1="203" x2="161" y2="206" stroke="#cc1235" stroke-width="0.6"/>
<line x1="159.6" y1="203" x2="162.4" y2="203" stroke="#cc1235" stroke-width="0.6"/>
<line x1="159.6" y1="206" x2="162.4" y2="206" stroke="#cc1235" stroke-width="0.6"/>
<circle cx="161" cy="201" r="1.7" fill="#cc1235"/>
<circle cx="161" cy="204.6" r="1.7" fill="#cc1235"/>
<circle cx="161" cy="207.5" r="1.7" fill="#cc1235"/>
<line x1="164" y1="201.5" x2="171" y2="201.5" stroke="#0d4a85" stroke-width="0.6"/>
<line x1="167.5" y1="200.5" x2="167.5" y2="202.5" stroke="#0d4a85" stroke-width="0.6"/>
<line x1="166.1" y1="200.5" x2="168.9" y2="200.5" stroke="#0d4a85" stroke-width="0.6"/>
<line x1="166.1" y1="202.5" x2="168.9" y2="202.5" stroke="#0d4a85" stroke-width="0.6"/>
<rect x="165.97" y="198.27" width="3.06" height="3.06" fill="#0d4a85"/>
<rect x="165.97" y="199.47" width="3.06" height="3.06" fill="#0d4a85"/>
<rect x="165.97" y="203.07" width="3.06" height="3.06" fill="#0d4a85"/>
<line x1="170.1" y1="192.6" x2="177.1" y2="192.6" stroke="#33b04a" stroke-width="0.6"/>
<line x1="173.6" y1="188.5" x2="173.6" y2="197" stroke="#33b04a" stroke-width="0.6"/>
<line x1="172.2" y1="188.5" x2="175" y2="188.5" stroke="#33b04a" stroke-width="0.6"/>
<line x1="172.2" y1="197" x2="175" y2="197" stroke="#33b04a" stroke-width="0.6"/>
<polygon points="173.6,184.36 171.73,187.75 175.47,187.75" fill="#33b04a"/>
<polygon points="173.6,190.36 171.73,193.75 175.47,193.75" fill="#33b04a"/>
<polygon points="173.6,198.76 171.73,202.15 175.47,202.15" fill="#33b04a"/>
<line x1="180.6" y1="230" x2="187.6" y2="230" stroke="#cc1235" stroke-width="0.6"/>
<line x1="184.1" y1="229" x2="184.1" y2="231" stroke="#cc1235" stroke-width="0.6"/>
<line x1="182.7" y1="229" x2="185.5" y2="229" stroke="#cc1235" stroke-width="0.6"/>
<line x1="182.7" y1="231" x2="185.5" y2="231" stroke="#cc1235" stroke-width="0.6"/>
<circle cx="184.1" cy="227.2" r="1.7" fill="#cc1235"/>
<circle cx="184.1" cy="230.5" r="1.7" fill="#cc1235"/>
<circle cx="184.1" cy="232.7" r="1.7" fill="#cc1235"/>
<line x1="186.8" y1="215" x2="193.8" y2="215" stroke="#0d4a85" stroke-width="0.6"/>
<line x1="190.3" y1="214" x2="190.3" y2="216" stroke="#0d4a85" stroke-width="0.6"/>
<line x1="188.9" y1="214" x2="191.7" y2="214" stroke="#0d4a85" stroke-width="0.6"/>
<line x1="188.9" y1="216" x2="191.7" y2="216" stroke="#0d4a85" stroke-width="0.6"/>
<rect x="188.77" y="211.27" width="3.06" height="3.06" fill="#0d4a85"/>
<rect x="188.77" y="213.17" width="3.06" height="3.06" fill="#0d4a85"/>
<rect x="188.77" y="215.97" width="3.06" height="3.06" fill="#0d4a85"/>
<line x1="192.8" y1="221.7" x2="199.8" y2="221.7" stroke="#33b04a" stroke-width="0.6"/>
<line x1="196.3" y1="219.5" x2="196.3" y2="224" stroke="#33b04a" stroke-width="0.6"/>
<line x1="194.9" y1="219.5" x2="197.7" y2="219.5" stroke="#33b04a" stroke-width="0.6"/>
<line x1="194.9" y1="224" x2="197.7" y2="224" stroke="#33b04a" stroke-width="0.6"/>
<polygon points="196.3,216.36 194.43,219.75 198.17,219.75" fill="#33b04a"/>
<polygon points="196.3,219.96 194.43,223.35 198.17,223.35" fill="#33b04a"/>
<polygon points="196.3,222.86 194.43,226.25 198.17,226.25" fill="#33b04a"/>
<polyline points="138.4,232 138.4,221.4 145.1,221.4 145.1,225.5" fill="none" stroke="#444" stroke-width="0.9"/>
<polygon points="142.3,215.8 142.88,217.2 144.39,217.32 143.24,218.31 143.59,219.78 142.3,218.99 141.01,219.78 141.36,218.31 140.21,217.32 141.72,217.2" fill="#222"/>
<polyline points="138.4,217.5 138.4,213.2 151.6,213.2 151.6,224.8" fill="none" stroke="#444" stroke-width="0.9"/>
<polygon points="145.1,207.3 145.68,208.7 147.19,208.82 146.04,209.81 146.39,211.28 145.1,210.49 143.81,211.28 144.16,209.81 143.01,208.82 144.52,208.7" fill="#222"/>
<polyline points="183.7,220 183.7,206 189.9,206 189.9,208.9" fill="none" stroke="#444" stroke-width="0.9"/>
<polygon points="187.3,199.7 187.88,201.1 189.39,201.22 188.24,202.21 188.59,203.68 187.3,202.89 186.01,203.68 186.36,202.21 185.21,201.22 186.72,201.1" fill="#222"/>
<polyline points="183.7,200.2 183.7,196.6 196.6,196.6 196.6,212.8" fill="none" stroke="#444" stroke-width="0.9"/>
<polygon points="187.25,190 187.83,191.4 189.34,191.52 188.19,192.51 188.54,193.98 187.25,193.19 185.96,193.98 186.31,192.51 185.16,191.52 186.67,191.4" fill="#222"/>
<polygon points="191.55,190 192.13,191.4 193.64,191.52 192.49,192.51 192.84,193.98 191.55,193.19 190.26,193.98 190.61,192.51 189.46,191.52 190.97,191.4" fill="#222"/>
<circle cx="207" cy="182" r="1.5" fill="#cc1235"/>
<text x="212" y="184.88" font-size="8.6" text-anchor="start" font-weight="normal" fill="#333333" textLength="25" lengthAdjust="spacingAndGlyphs">Control</text>
<rect x="205.65" y="191.65" width="2.7" height="2.7" fill="#0d4a85"/>
<text x="212" y="195.88" font-size="8.6" text-anchor="start" font-weight="normal" fill="#333333" textLength="33.5" lengthAdjust="spacingAndGlyphs">MCT4-OE</text>
<polygon points="207,202.09 205.35,205.08 208.65,205.08" fill="#33b04a"/>
<text x="212" y="206.68" font-size="8.6" text-anchor="start" font-weight="normal" fill="#333333" textLength="33" lengthAdjust="spacingAndGlyphs">NHE1-OE</text>
<text x="254.3" y="169.2" font-size="10.5" text-anchor="start" font-weight="bold" fill="#111">D</text>
<line x1="298" y1="175.8" x2="298" y2="255" stroke="#333333" stroke-width="1.3"/>
<line x1="295" y1="176.8" x2="298" y2="176.8" stroke="#333333" stroke-width="1"/>
<text x="290" y="179.8" font-size="8.6" text-anchor="end" font-weight="normal" fill="#3a3a3a" textLength="23" lengthAdjust="spacingAndGlyphs">4 × 10</text>
<text x="290.2" y="176.2" font-size="4.5" text-anchor="start" font-weight="normal" fill="#3a3a3a">2</text>
<line x1="295" y1="196.6" x2="298" y2="196.6" stroke="#333333" stroke-width="1"/>
<text x="290" y="199.6" font-size="8.6" text-anchor="end" font-weight="normal" fill="#3a3a3a" textLength="23" lengthAdjust="spacingAndGlyphs">3 × 10</text>
<text x="290.2" y="196" font-size="4.5" text-anchor="start" font-weight="normal" fill="#3a3a3a">2</text>
<line x1="295" y1="216.2" x2="298" y2="216.2" stroke="#333333" stroke-width="1"/>
<text x="290" y="219.2" font-size="8.6" text-anchor="end" font-weight="normal" fill="#3a3a3a" textLength="23" lengthAdjust="spacingAndGlyphs">2 × 10</text>
<text x="290.2" y="215.6" font-size="4.5" text-anchor="start" font-weight="normal" fill="#3a3a3a">2</text>
<line x1="295" y1="235.6" x2="298" y2="235.6" stroke="#333333" stroke-width="1"/>
<text x="290" y="238.6" font-size="8.6" text-anchor="end" font-weight="normal" fill="#3a3a3a" textLength="23" lengthAdjust="spacingAndGlyphs">1 × 10</text>
<text x="290.2" y="235" font-size="4.5" text-anchor="start" font-weight="normal" fill="#3a3a3a">2</text>
<line x1="295" y1="255" x2="298" y2="255" stroke="#333333" stroke-width="1"/>
<text x="295" y="257.9" font-size="8.6" text-anchor="end" font-weight="normal" fill="#333333" textLength="4.45" lengthAdjust="spacingAndGlyphs">0</text>
<text x="261.5" y="215.6" font-size="8.6" text-anchor="middle" font-weight="normal" fill="#333333" transform="rotate(-90 261.5 215.6)" textLength="71" lengthAdjust="spacingAndGlyphs">Glucose uptake (MFI)</text>
<line x1="297.35" y1="255" x2="357" y2="255" stroke="#333333" stroke-width="1.3"/>
<line x1="313.3" y1="255" x2="313.3" y2="258.2" stroke="#333333" stroke-width="1.04"/>
<line x1="342.5" y1="255" x2="342.5" y2="258.2" stroke="#333333" stroke-width="1.04"/>
<text x="313.3" y="267" font-size="8.6" text-anchor="middle" font-weight="normal" fill="#333333" textLength="14.52" lengthAdjust="spacingAndGlyphs">LKS</text>
<text x="342.5" y="267" font-size="8.6" text-anchor="middle" font-weight="normal" fill="#333333" textLength="17.49" lengthAdjust="spacingAndGlyphs">GMP</text>
<line x1="303.5" y1="215" x2="312.5" y2="215" stroke="#cc1235" stroke-width="0.8"/>
<line x1="308" y1="210" x2="308" y2="220" stroke="#cc1235" stroke-width="0.8"/>
<line x1="306.2" y1="210" x2="309.8" y2="210" stroke="#cc1235" stroke-width="0.8"/>
<line x1="306.2" y1="220" x2="309.8" y2="220" stroke="#cc1235" stroke-width="0.8"/>
<circle cx="308" cy="205.5" r="1.8" fill="#cc1235"/>
<circle cx="308" cy="214.5" r="1.8" fill="#cc1235"/>
<circle cx="308" cy="221.3" r="1.8" fill="#cc1235"/>
<line x1="314.3" y1="209.5" x2="323.3" y2="209.5" stroke="#0d4a85" stroke-width="0.8"/>
<line x1="318.8" y1="202.5" x2="318.8" y2="216.3" stroke="#0d4a85" stroke-width="0.8"/>
<line x1="317" y1="202.5" x2="320.6" y2="202.5" stroke="#0d4a85" stroke-width="0.8"/>
<line x1="317" y1="216.3" x2="320.6" y2="216.3" stroke="#0d4a85" stroke-width="0.8"/>
<rect x="317.18" y="193.88" width="3.24" height="3.24" fill="#0d4a85"/>
<rect x="317.18" y="210.38" width="3.24" height="3.24" fill="#0d4a85"/>
<rect x="317.18" y="219.18" width="3.24" height="3.24" fill="#0d4a85"/>
<line x1="333" y1="215" x2="342" y2="215" stroke="#cc1235" stroke-width="0.8"/>
<line x1="337.5" y1="212.5" x2="337.5" y2="217.5" stroke="#cc1235" stroke-width="0.8"/>
<line x1="335.7" y1="212.5" x2="339.3" y2="212.5" stroke="#cc1235" stroke-width="0.8"/>
<line x1="335.7" y1="217.5" x2="339.3" y2="217.5" stroke="#cc1235" stroke-width="0.8"/>
<circle cx="337.5" cy="210.5" r="1.8" fill="#cc1235"/>
<circle cx="337.5" cy="215" r="1.8" fill="#cc1235"/>
<circle cx="337.5" cy="220" r="1.8" fill="#cc1235"/>
<line x1="344.3" y1="198.8" x2="353.3" y2="198.8" stroke="#0d4a85" stroke-width="0.8"/>
<line x1="348.8" y1="195.5" x2="348.8" y2="203.8" stroke="#0d4a85" stroke-width="0.8"/>
<line x1="347" y1="195.5" x2="350.6" y2="195.5" stroke="#0d4a85" stroke-width="0.8"/>
<line x1="347" y1="203.8" x2="350.6" y2="203.8" stroke="#0d4a85" stroke-width="0.8"/>
<rect x="347.18" y="190.88" width="3.24" height="3.24" fill="#0d4a85"/>
<rect x="347.18" y="193.38" width="3.24" height="3.24" fill="#0d4a85"/>
<rect x="347.18" y="206.68" width="3.24" height="3.24" fill="#0d4a85"/>
<polyline points="337.5,197 337.5,175 347.5,175 347.5,178.8" fill="none" stroke="#444" stroke-width="0.9"/>
<polygon points="343,168.5 343.58,169.9 345.09,170.02 343.94,171.01 344.29,172.48 343,171.69 341.71,172.48 342.06,171.01 340.91,170.02 342.42,169.9" fill="#222"/>
<circle cx="363.3" cy="186.3" r="1.5" fill="#cc1235"/>
<text x="367.5" y="189.18" font-size="8.6" text-anchor="start" font-weight="normal" fill="#333333" textLength="25" lengthAdjust="spacingAndGlyphs">Control</text>
<rect x="361.95" y="196.15" width="2.7" height="2.7" fill="#0d4a85"/>
<text x="367.5" y="200.38" font-size="8.6" text-anchor="start" font-weight="normal" fill="#333333" textLength="33.5" lengthAdjust="spacingAndGlyphs">MCT4-OE</text>
<text x="404.5" y="169.2" font-size="10.5" text-anchor="start" font-weight="bold" fill="#111">E</text>
<line x1="432.3" y1="177.3" x2="432.3" y2="256" stroke="#333333" stroke-width="1.3"/>
<line x1="429.3" y1="177.8" x2="432.3" y2="177.8" stroke="#333333" stroke-width="1.04"/>
<text x="427.8" y="180.68" font-size="8.6" text-anchor="end" font-weight="normal" fill="#333333" textLength="13.35" lengthAdjust="spacingAndGlyphs">150</text>
<line x1="429.3" y1="203.8" x2="432.3" y2="203.8" stroke="#333333" stroke-width="1.04"/>
<text x="427.8" y="206.68" font-size="8.6" text-anchor="end" font-weight="normal" fill="#333333" textLength="13.35" lengthAdjust="spacingAndGlyphs">100</text>
<line x1="429.3" y1="230" x2="432.3" y2="230" stroke="#333333" stroke-width="1.04"/>
<text x="427.8" y="232.88" font-size="8.6" text-anchor="end" font-weight="normal" fill="#333333" textLength="8.9" lengthAdjust="spacingAndGlyphs">50</text>
<line x1="429.3" y1="256" x2="432.3" y2="256" stroke="#333333" stroke-width="1.04"/>
<text x="427.8" y="258.88" font-size="8.6" text-anchor="end" font-weight="normal" fill="#333333" textLength="4.45" lengthAdjust="spacingAndGlyphs">0</text>
<text x="410.8" y="216.2" font-size="8.8" text-anchor="middle" font-weight="normal" fill="#333333" transform="rotate(-90 410.8 216.2)" textLength="15" lengthAdjust="spacingAndGlyphs">Rate</text>
<line x1="431.65" y1="256" x2="491" y2="256" stroke="#333333" stroke-width="1.3"/>
<line x1="447.1" y1="256" x2="447.1" y2="259.2" stroke="#333333" stroke-width="1.04"/>
<line x1="476.4" y1="256" x2="476.4" y2="259.2" stroke="#333333" stroke-width="1.04"/>
<text x="447.1" y="267.5" font-size="8.6" text-anchor="middle" font-weight="normal" fill="#333333" textLength="21.34" lengthAdjust="spacingAndGlyphs">ECAR</text>
<text x="476.4" y="267.5" font-size="8.6" text-anchor="middle" font-weight="normal" fill="#333333" textLength="17.07" lengthAdjust="spacingAndGlyphs">OCR</text>
<circle cx="440" cy="235.5" r="1.8" fill="#cc1235"/>
<circle cx="443.2" cy="235.8" r="1.8" fill="#cc1235"/>
<circle cx="441.5" cy="239" r="1.8" fill="#cc1235"/>
<line x1="438.5" y1="236.5" x2="444.5" y2="236.5" stroke="#cc1235" stroke-width="0.8"/>
<rect x="447.88" y="229.38" width="3.24" height="3.24" fill="#0d4a85"/>
<rect x="450.38" y="228.18" width="3.24" height="3.24" fill="#0d4a85"/>
<rect x="452.88" y="228.88" width="3.24" height="3.24" fill="#0d4a85"/>
<line x1="449" y1="230.5" x2="455" y2="230.5" stroke="#0d4a85" stroke-width="0.8"/>
<circle cx="468.2" cy="204" r="1.8" fill="#cc1235"/>
<circle cx="471.6" cy="206.3" r="1.8" fill="#cc1235"/>
<circle cx="468.2" cy="208.8" r="1.8" fill="#cc1235"/>
<line x1="466" y1="206.3" x2="473" y2="206.3" stroke="#cc1235" stroke-width="0.8"/>
<rect x="479.68" y="181.18" width="3.24" height="3.24" fill="#0d4a85"/>
<rect x="479.68" y="188.48" width="3.24" height="3.24" fill="#0d4a85"/>
<rect x="479.68" y="191.78" width="3.24" height="3.24" fill="#0d4a85"/>
<rect x="479.68" y="193.38" width="3.24" height="3.24" fill="#0d4a85"/>
<line x1="477.8" y1="190.1" x2="484.8" y2="190.1" stroke="#0d4a85" stroke-width="0.9"/>
<line x1="481.3" y1="186.3" x2="481.3" y2="195.5" stroke="#0d4a85" stroke-width="0.9"/>
<line x1="479.8" y1="186.3" x2="482.8" y2="186.3" stroke="#0d4a85" stroke-width="0.9"/>
<line x1="479.8" y1="195.5" x2="482.8" y2="195.5" stroke="#0d4a85" stroke-width="0.9"/>
<polyline points="441.7,229.2 441.7,221 453.3,221 453.3,224.3" fill="none" stroke="#444" stroke-width="0.9"/>
<polygon points="446,214.8 446.58,216.2 448.09,216.32 446.94,217.31 447.29,218.78 446,217.99 444.71,218.78 445.06,217.31 443.91,216.32 445.42,216.2" fill="#222"/>
<polyline points="470.7,190.1 470.7,174.3 482.1,174.3 482.1,177.1" fill="none" stroke="#444" stroke-width="0.9"/>
<polygon points="476.4,168.4 476.98,169.8 478.49,169.92 477.34,170.91 477.69,172.38 476.4,171.59 475.11,172.38 475.46,170.91 474.31,169.92 475.82,169.8" fill="#222"/>
<circle cx="474.3" cy="231.1" r="1.5" fill="#cc1235"/>
<text x="478.7" y="233.98" font-size="8.6" text-anchor="start" font-weight="normal" fill="#333333" textLength="25" lengthAdjust="spacingAndGlyphs">Control</text>
<rect x="472.95" y="240.85" width="2.7" height="2.7" fill="#0d4a85"/>
<text x="478.7" y="245.08" font-size="8.6" text-anchor="start" font-weight="normal" fill="#333333" textLength="33.5" lengthAdjust="spacingAndGlyphs">MCT4-OE</text>
<text x="8.5" y="321.7" font-size="10.5" text-anchor="start" font-weight="bold" fill="#111">F</text>
<line x1="44.3" y1="342.1" x2="44.3" y2="418.4" stroke="#333333" stroke-width="1.3"/>
<line x1="41.3" y1="343.3" x2="44.3" y2="343.3" stroke="#333333" stroke-width="1.04"/>
<text x="40" y="346.18" font-size="8.6" text-anchor="end" font-weight="normal" fill="#333333" textLength="4.45" lengthAdjust="spacingAndGlyphs">8</text>
<line x1="41.3" y1="361.6" x2="44.3" y2="361.6" stroke="#333333" stroke-width="1.04"/>
<text x="40" y="364.48" font-size="8.6" text-anchor="end" font-weight="normal" fill="#333333" textLength="4.45" lengthAdjust="spacingAndGlyphs">4</text>
<line x1="41.3" y1="380.4" x2="44.3" y2="380.4" stroke="#333333" stroke-width="1.04"/>
<text x="40" y="383.28" font-size="8.6" text-anchor="end" font-weight="normal" fill="#333333" textLength="4.45" lengthAdjust="spacingAndGlyphs">2</text>
<line x1="41.3" y1="399.4" x2="44.3" y2="399.4" stroke="#333333" stroke-width="1.04"/>
<text x="40" y="402.28" font-size="8.6" text-anchor="end" font-weight="normal" fill="#333333" textLength="4.45" lengthAdjust="spacingAndGlyphs">1</text>
<line x1="41.3" y1="418.4" x2="44.3" y2="418.4" stroke="#333333" stroke-width="1.04"/>
<text x="40" y="421.28" font-size="8.6" text-anchor="end" font-weight="normal" fill="#333333" textLength="11.12" lengthAdjust="spacingAndGlyphs">0.5</text>
<text x="14.4" y="380" font-size="8.6" text-anchor="middle" font-weight="normal" fill="#333333" transform="rotate(-90 14.4 380)" textLength="40" lengthAdjust="spacingAndGlyphs">Fold change</text>
<text x="26.2" y="380" font-size="8.6" text-anchor="middle" font-weight="normal" fill="#333333" transform="rotate(-90 26.2 380)" textLength="71" lengthAdjust="spacingAndGlyphs">normalized to control</text>
<rect x="48.7" y="400.1" width="3.5" height="18.3" fill="#c92337"/>
<line x1="50.45" y1="398.5" x2="50.45" y2="400.1" stroke="#333" stroke-width="0.8"/>
<line x1="49.3" y1="398.5" x2="51.6" y2="398.5" stroke="#333" stroke-width="0.8"/>
<rect x="54.1" y="384.9" width="3.6" height="33.5" fill="#11508a"/>
<line x1="55.9" y1="382.7" x2="55.9" y2="384.9" stroke="#333" stroke-width="0.8"/>
<line x1="54.7" y1="382.7" x2="57.1" y2="382.7" stroke="#333" stroke-width="0.8"/>
<polygon points="55.9,366.7 56.48,368.1 57.99,368.22 56.84,369.21 57.19,370.68 55.9,369.89 54.61,370.68 54.96,369.21 53.81,368.22 55.32,368.1" fill="#222"/>
<text x="56.25" y="427" font-size="8.2" text-anchor="end" font-weight="normal" fill="#333333" transform="rotate(-45 56.25 427)">G-6-P</text>
<rect x="61.75" y="400.1" width="3.5" height="18.3" fill="#c92337"/>
<line x1="63.5" y1="398.5" x2="63.5" y2="400.1" stroke="#333" stroke-width="0.8"/>
<line x1="62.35" y1="398.5" x2="64.65" y2="398.5" stroke="#333" stroke-width="0.8"/>
<rect x="67.15" y="384.5" width="3.6" height="33.9" fill="#11508a"/>
<line x1="68.95" y1="382.3" x2="68.95" y2="384.5" stroke="#333" stroke-width="0.8"/>
<line x1="67.75" y1="382.3" x2="70.15" y2="382.3" stroke="#333" stroke-width="0.8"/>
<polygon points="64.65,366.7 65.23,368.1 66.74,368.22 65.59,369.21 65.94,370.68 64.65,369.89 63.36,370.68 63.71,369.21 62.56,368.22 64.07,368.1" fill="#222"/>
<polygon points="68.95,366.7 69.53,368.1 71.04,368.22 69.89,369.21 70.24,370.68 68.95,369.89 67.66,370.68 68.01,369.21 66.86,368.22 68.37,368.1" fill="#222"/>
<polygon points="73.25,366.7 73.83,368.1 75.34,368.22 74.19,369.21 74.54,370.68 73.25,369.89 71.96,370.68 72.31,369.21 71.16,368.22 72.67,368.1" fill="#222"/>
<text x="69.3" y="427" font-size="8.2" text-anchor="end" font-weight="normal" fill="#333333" transform="rotate(-45 69.3 427)">F-6-P</text>
<rect x="74.8" y="400.1" width="3.5" height="18.3" fill="#c92337"/>
<line x1="76.55" y1="396.4" x2="76.55" y2="400.1" stroke="#333" stroke-width="0.8"/>
<line x1="75.4" y1="396.4" x2="77.7" y2="396.4" stroke="#333" stroke-width="0.8"/>
<rect x="80.2" y="351" width="3.6" height="67.4" fill="#11508a"/>
<line x1="82" y1="347.2" x2="82" y2="351" stroke="#333" stroke-width="0.8"/>
<line x1="80.8" y1="347.2" x2="83.2" y2="347.2" stroke="#333" stroke-width="0.8"/>
<polygon points="82,340.3 82.58,341.7 84.09,341.82 82.94,342.81 83.29,344.28 82,343.49 80.71,344.28 81.06,342.81 79.91,341.82 81.42,341.7" fill="#222"/>
<text x="82.35" y="427" font-size="8.2" text-anchor="end" font-weight="normal" fill="#333333" transform="rotate(-45 82.35 427)">FBP</text>
<rect x="87.85" y="400.1" width="3.5" height="18.3" fill="#c92337"/>
<line x1="89.6" y1="398.5" x2="89.6" y2="400.1" stroke="#333" stroke-width="0.8"/>
<line x1="88.45" y1="398.5" x2="90.75" y2="398.5" stroke="#333" stroke-width="0.8"/>
<rect x="93.25" y="384" width="3.6" height="34.4" fill="#11508a"/>
<line x1="95.05" y1="381.8" x2="95.05" y2="384" stroke="#333" stroke-width="0.8"/>
<line x1="93.85" y1="381.8" x2="96.25" y2="381.8" stroke="#333" stroke-width="0.8"/>
<polygon points="92.9,366.7 93.48,368.1 94.99,368.22 93.84,369.21 94.19,370.68 92.9,369.89 91.61,370.68 91.96,369.21 90.81,368.22 92.32,368.1" fill="#222"/>
<polygon points="97.2,366.7 97.78,368.1 99.29,368.22 98.14,369.21 98.49,370.68 97.2,369.89 95.91,370.68 96.26,369.21 95.11,368.22 96.62,368.1" fill="#222"/>
<text x="95.4" y="427" font-size="8.2" text-anchor="end" font-weight="normal" fill="#333333" transform="rotate(-45 95.4 427)">DHAP</text>
<rect x="100.9" y="400.1" width="3.5" height="18.3" fill="#c92337"/>
<line x1="102.65" y1="398.5" x2="102.65" y2="400.1" stroke="#333" stroke-width="0.8"/>
<line x1="101.5" y1="398.5" x2="103.8" y2="398.5" stroke="#333" stroke-width="0.8"/>
<rect x="106.3" y="371.8" width="3.6" height="46.6" fill="#11508a"/>
<line x1="108.1" y1="369.6" x2="108.1" y2="371.8" stroke="#333" stroke-width="0.8"/>
<line x1="106.9" y1="369.6" x2="109.3" y2="369.6" stroke="#333" stroke-width="0.8"/>
<polygon points="105.95,356.3 106.53,357.7 108.04,357.82 106.89,358.81 107.24,360.28 105.95,359.49 104.66,360.28 105.01,358.81 103.86,357.82 105.37,357.7" fill="#222"/>
<polygon points="110.25,356.3 110.83,357.7 112.34,357.82 111.19,358.81 111.54,360.28 110.25,359.49 108.96,360.28 109.31,358.81 108.16,357.82 109.67,357.7" fill="#222"/>
<text x="108.45" y="427" font-size="8.2" text-anchor="end" font-weight="normal" fill="#333333" transform="rotate(-45 108.45 427)">3PG</text>
<rect x="113.95" y="400.1" width="3.5" height="18.3" fill="#c92337"/>
<line x1="115.7" y1="398.5" x2="115.7" y2="400.1" stroke="#333" stroke-width="0.8"/>
<line x1="114.55" y1="398.5" x2="116.85" y2="398.5" stroke="#333" stroke-width="0.8"/>
<rect x="119.35" y="383.6" width="3.6" height="34.8" fill="#11508a"/>
<line x1="121.15" y1="381.4" x2="121.15" y2="383.6" stroke="#333" stroke-width="0.8"/>
<line x1="119.95" y1="381.4" x2="122.35" y2="381.4" stroke="#333" stroke-width="0.8"/>
<polygon points="121.15,366.7 121.73,368.1 123.24,368.22 122.09,369.21 122.44,370.68 121.15,369.89 119.86,370.68 120.21,369.21 119.06,368.22 120.57,368.1" fill="#222"/>
<text x="121.5" y="427" font-size="8.2" text-anchor="end" font-weight="normal" fill="#333333" transform="rotate(-45 121.5 427)">PEP</text>
<rect x="127" y="400.1" width="3.5" height="18.3" fill="#c92337"/>
<line x1="128.75" y1="398.5" x2="128.75" y2="400.1" stroke="#333" stroke-width="0.8"/>
<line x1="127.6" y1="398.5" x2="129.9" y2="398.5" stroke="#333" stroke-width="0.8"/>
<rect x="132.4" y="386.5" width="3.6" height="31.9" fill="#11508a"/>
<line x1="134.2" y1="384.3" x2="134.2" y2="386.5" stroke="#333" stroke-width="0.8"/>
<line x1="133" y1="384.3" x2="135.4" y2="384.3" stroke="#333" stroke-width="0.8"/>
<polygon points="132.05,366.7 132.63,368.1 134.14,368.22 132.99,369.21 133.34,370.68 132.05,369.89 130.76,370.68 131.11,369.21 129.96,368.22 131.47,368.1" fill="#222"/>
<polygon points="136.35,366.7 136.93,368.1 138.44,368.22 137.29,369.21 137.64,370.68 136.35,369.89 135.06,370.68 135.41,369.21 134.26,368.22 135.77,368.1" fill="#222"/>
<text x="134.55" y="427" font-size="8.2" text-anchor="end" font-weight="normal" fill="#333333" transform="rotate(-45 134.55 427)">Pyruvate</text>
<rect x="140.05" y="400.1" width="3.5" height="18.3" fill="#c92337"/>
<line x1="141.8" y1="398.5" x2="141.8" y2="400.1" stroke="#333" stroke-width="0.8"/>
<line x1="140.65" y1="398.5" x2="142.95" y2="398.5" stroke="#333" stroke-width="0.8"/>
<rect x="145.45" y="394.3" width="3.6" height="24.1" fill="#11508a"/>
<line x1="147.25" y1="392.1" x2="147.25" y2="394.3" stroke="#333" stroke-width="0.8"/>
<line x1="146.05" y1="392.1" x2="148.45" y2="392.1" stroke="#333" stroke-width="0.8"/>
<text x="147.6" y="427" font-size="8.2" text-anchor="end" font-weight="normal" fill="#333333" transform="rotate(-45 147.6 427)">Lactate</text>
<rect x="153.1" y="400.1" width="3.5" height="18.3" fill="#c92337"/>
<line x1="154.85" y1="398.5" x2="154.85" y2="400.1" stroke="#333" stroke-width="0.8"/>
<line x1="153.7" y1="398.5" x2="156" y2="398.5" stroke="#333" stroke-width="0.8"/>
<rect x="158.5" y="385" width="3.6" height="33.4" fill="#11508a"/>
<line x1="160.3" y1="382.8" x2="160.3" y2="385" stroke="#333" stroke-width="0.8"/>
<line x1="159.1" y1="382.8" x2="161.5" y2="382.8" stroke="#333" stroke-width="0.8"/>
<polygon points="158.15,366.7 158.73,368.1 160.24,368.22 159.09,369.21 159.44,370.68 158.15,369.89 156.86,370.68 157.21,369.21 156.06,368.22 157.57,368.1" fill="#222"/>
<polygon points="162.45,366.7 163.03,368.1 164.54,368.22 163.39,369.21 163.74,370.68 162.45,369.89 161.16,370.68 161.51,369.21 160.36,368.22 161.87,368.1" fill="#222"/>
<text x="160.65" y="427" font-size="8.2" text-anchor="end" font-weight="normal" fill="#333333" transform="rotate(-45 160.65 427)">ATP/ADP</text>
<rect x="166.15" y="400.1" width="3.5" height="18.3" fill="#c92337"/>
<line x1="167.9" y1="398.5" x2="167.9" y2="400.1" stroke="#333" stroke-width="0.8"/>
<line x1="166.75" y1="398.5" x2="169.05" y2="398.5" stroke="#333" stroke-width="0.8"/>
<rect x="171.55" y="380.8" width="3.6" height="37.6" fill="#11508a"/>
<line x1="173.35" y1="378.6" x2="173.35" y2="380.8" stroke="#333" stroke-width="0.8"/>
<line x1="172.15" y1="378.6" x2="174.55" y2="378.6" stroke="#333" stroke-width="0.8"/>
<polygon points="171.2,366.7 171.78,368.1 173.29,368.22 172.14,369.21 172.49,370.68 171.2,369.89 169.91,370.68 170.26,369.21 169.11,368.22 170.62,368.1" fill="#222"/>
<polygon points="175.5,366.7 176.08,368.1 177.59,368.22 176.44,369.21 176.79,370.68 175.5,369.89 174.21,370.68 174.56,369.21 173.41,368.22 174.92,368.1" fill="#222"/>
<text x="173.7" y="427" font-size="8.2" text-anchor="end" font-weight="normal" fill="#333333" transform="rotate(-45 173.7 427)">S-7-P</text>
<rect x="179.2" y="400.1" width="3.5" height="18.3" fill="#c92337"/>
<line x1="180.95" y1="398.5" x2="180.95" y2="400.1" stroke="#333" stroke-width="0.8"/>
<line x1="179.8" y1="398.5" x2="182.1" y2="398.5" stroke="#333" stroke-width="0.8"/>
<rect x="184.6" y="365.5" width="3.6" height="52.9" fill="#11508a"/>
<line x1="186.4" y1="363.3" x2="186.4" y2="365.5" stroke="#333" stroke-width="0.8"/>
<line x1="185.2" y1="363.3" x2="187.6" y2="363.3" stroke="#333" stroke-width="0.8"/>
<polygon points="186.4,352 186.98,353.4 188.49,353.52 187.34,354.51 187.69,355.98 186.4,355.19 185.11,355.98 185.46,354.51 184.31,353.52 185.82,353.4" fill="#222"/>
<text x="186.75" y="427" font-size="8.2" text-anchor="end" font-weight="normal" fill="#333333" transform="rotate(-45 186.75 427)">R-5-P</text>
<rect x="192.25" y="400.1" width="3.5" height="18.3" fill="#c92337"/>
<line x1="194" y1="398.5" x2="194" y2="400.1" stroke="#333" stroke-width="0.8"/>
<line x1="192.85" y1="398.5" x2="195.15" y2="398.5" stroke="#333" stroke-width="0.8"/>
<rect x="197.65" y="408.3" width="3.6" height="10.1" fill="#11508a"/>
<line x1="199.45" y1="406.1" x2="199.45" y2="408.3" stroke="#333" stroke-width="0.8"/>
<line x1="198.25" y1="406.1" x2="200.65" y2="406.1" stroke="#333" stroke-width="0.8"/>
<polygon points="199.45,366.7 200.03,368.1 201.54,368.22 200.39,369.21 200.74,370.68 199.45,369.89 198.16,370.68 198.51,369.21 197.36,368.22 198.87,368.1" fill="#222"/>
<text x="199.8" y="427" font-size="8.2" text-anchor="end" font-weight="normal" fill="#333333" transform="rotate(-45 199.8 427)">NADP+/NADPH</text>
<rect x="205.3" y="400.1" width="3.5" height="18.3" fill="#c92337"/>
<line x1="207.05" y1="398.5" x2="207.05" y2="400.1" stroke="#333" stroke-width="0.8"/>
<line x1="205.9" y1="398.5" x2="208.2" y2="398.5" stroke="#333" stroke-width="0.8"/>
<rect x="210.7" y="404.3" width="3.6" height="14.1" fill="#11508a"/>
<line x1="212.5" y1="402.1" x2="212.5" y2="404.3" stroke="#333" stroke-width="0.8"/>
<line x1="211.3" y1="402.1" x2="213.7" y2="402.1" stroke="#333" stroke-width="0.8"/>
<text x="212.85" y="427" font-size="8.2" text-anchor="end" font-weight="normal" fill="#333333" transform="rotate(-45 212.85 427)">Lactate (M+1/M+2)</text>
<rect x="218.35" y="400.1" width="3.5" height="18.3" fill="#c92337"/>
<line x1="220.1" y1="398.5" x2="220.1" y2="400.1" stroke="#333" stroke-width="0.8"/>
<line x1="218.95" y1="398.5" x2="221.25" y2="398.5" stroke="#333" stroke-width="0.8"/>
<rect x="223.75" y="407.3" width="3.6" height="11.1" fill="#11508a"/>
<line x1="225.55" y1="405.1" x2="225.55" y2="407.3" stroke="#333" stroke-width="0.8"/>
<line x1="224.35" y1="405.1" x2="226.75" y2="405.1" stroke="#333" stroke-width="0.8"/>
<text x="225.9" y="427" font-size="8.2" text-anchor="end" font-weight="normal" fill="#333333" transform="rotate(-45 225.9 427)">AMP</text>
<rect x="231.4" y="400.1" width="3.5" height="18.3" fill="#c92337"/>
<line x1="233.15" y1="398.5" x2="233.15" y2="400.1" stroke="#333" stroke-width="0.8"/>
<line x1="232" y1="398.5" x2="234.3" y2="398.5" stroke="#333" stroke-width="0.8"/>
<rect x="236.8" y="380.5" width="3.6" height="37.9" fill="#11508a"/>
<line x1="238.6" y1="378.3" x2="238.6" y2="380.5" stroke="#333" stroke-width="0.8"/>
<line x1="237.4" y1="378.3" x2="239.8" y2="378.3" stroke="#333" stroke-width="0.8"/>
<polygon points="238.6,366.7 239.18,368.1 240.69,368.22 239.54,369.21 239.89,370.68 238.6,369.89 237.31,370.68 237.66,369.21 236.51,368.22 238.02,368.1" fill="#222"/>
<text x="238.95" y="427" font-size="8.2" text-anchor="end" font-weight="normal" fill="#333333" transform="rotate(-45 238.95 427)">UMP</text>
<rect x="244.45" y="400.1" width="3.5" height="18.3" fill="#c92337"/>
<line x1="246.2" y1="398.5" x2="246.2" y2="400.1" stroke="#333" stroke-width="0.8"/>
<line x1="245.05" y1="398.5" x2="247.35" y2="398.5" stroke="#333" stroke-width="0.8"/>
<rect x="249.85" y="405.8" width="3.6" height="12.6" fill="#11508a"/>
<line x1="251.65" y1="403.6" x2="251.65" y2="405.8" stroke="#333" stroke-width="0.8"/>
<line x1="250.45" y1="403.6" x2="252.85" y2="403.6" stroke="#333" stroke-width="0.8"/>
<text x="252" y="427" font-size="8.2" text-anchor="end" font-weight="normal" fill="#333333" transform="rotate(-45 252 427)">CTP</text>
<rect x="257.5" y="400.1" width="3.5" height="18.3" fill="#c92337"/>
<line x1="259.25" y1="398.5" x2="259.25" y2="400.1" stroke="#333" stroke-width="0.8"/>
<line x1="258.1" y1="398.5" x2="260.4" y2="398.5" stroke="#333" stroke-width="0.8"/>
<rect x="262.9" y="410.8" width="3.6" height="7.6" fill="#11508a"/>
<line x1="264.7" y1="408.6" x2="264.7" y2="410.8" stroke="#333" stroke-width="0.8"/>
<line x1="263.5" y1="408.6" x2="265.9" y2="408.6" stroke="#333" stroke-width="0.8"/>
<text x="265.05" y="427" font-size="8.2" text-anchor="end" font-weight="normal" fill="#333333" transform="rotate(-45 265.05 427)">GTP</text>
<rect x="270.55" y="400.1" width="3.5" height="18.3" fill="#c92337"/>
<line x1="272.3" y1="398.5" x2="272.3" y2="400.1" stroke="#333" stroke-width="0.8"/>
<line x1="271.15" y1="398.5" x2="273.45" y2="398.5" stroke="#333" stroke-width="0.8"/>
<rect x="275.95" y="384.5" width="3.6" height="33.9" fill="#11508a"/>
<line x1="277.75" y1="382.3" x2="277.75" y2="384.5" stroke="#333" stroke-width="0.8"/>
<line x1="276.55" y1="382.3" x2="278.95" y2="382.3" stroke="#333" stroke-width="0.8"/>
<polygon points="277.75,366.7 278.33,368.1 279.84,368.22 278.69,369.21 279.04,370.68 277.75,369.89 276.46,370.68 276.81,369.21 275.66,368.22 277.17,368.1" fill="#222"/>
<text x="278.1" y="427" font-size="8.2" text-anchor="end" font-weight="normal" fill="#333333" transform="rotate(-45 278.1 427)">UTP</text>
<rect x="283.6" y="400.1" width="3.5" height="18.3" fill="#c92337"/>
<line x1="285.35" y1="398.5" x2="285.35" y2="400.1" stroke="#333" stroke-width="0.8"/>
<line x1="284.2" y1="398.5" x2="286.5" y2="398.5" stroke="#333" stroke-width="0.8"/>
<rect x="289" y="382.5" width="3.6" height="35.9" fill="#11508a"/>
<line x1="290.8" y1="380.3" x2="290.8" y2="382.5" stroke="#333" stroke-width="0.8"/>
<line x1="289.6" y1="380.3" x2="292" y2="380.3" stroke="#333" stroke-width="0.8"/>
<polygon points="290.8,366.7 291.38,368.1 292.89,368.22 291.74,369.21 292.09,370.68 290.8,369.89 289.51,370.68 289.86,369.21 288.71,368.22 290.22,368.1" fill="#222"/>
<text x="291.15" y="427" font-size="8.2" text-anchor="end" font-weight="normal" fill="#333333" transform="rotate(-45 291.15 427)">Alanine</text>
<rect x="296.65" y="400.1" width="3.5" height="18.3" fill="#c92337"/>
<line x1="298.4" y1="398.5" x2="298.4" y2="400.1" stroke="#333" stroke-width="0.8"/>
<line x1="297.25" y1="398.5" x2="299.55" y2="398.5" stroke="#333" stroke-width="0.8"/>
<rect x="302.05" y="416.3" width="3.6" height="2.1" fill="#11508a"/>
<line x1="303.85" y1="414.1" x2="303.85" y2="416.3" stroke="#333" stroke-width="0.8"/>
<line x1="302.65" y1="414.1" x2="305.05" y2="414.1" stroke="#333" stroke-width="0.8"/>
<polygon points="303.85,366.7 304.43,368.1 305.94,368.22 304.79,369.21 305.14,370.68 303.85,369.89 302.56,370.68 302.91,369.21 301.76,368.22 303.27,368.1" fill="#222"/>
<text x="304.2" y="427" font-size="8.2" text-anchor="end" font-weight="normal" fill="#333333" transform="rotate(-45 304.2 427)">Glycine</text>
<rect x="309.7" y="400.1" width="3.5" height="18.3" fill="#c92337"/>
<line x1="311.45" y1="398.5" x2="311.45" y2="400.1" stroke="#333" stroke-width="0.8"/>
<line x1="310.3" y1="398.5" x2="312.6" y2="398.5" stroke="#333" stroke-width="0.8"/>
<rect x="315.1" y="400.8" width="3.6" height="17.6" fill="#11508a"/>
<line x1="316.9" y1="398.6" x2="316.9" y2="400.8" stroke="#333" stroke-width="0.8"/>
<line x1="315.7" y1="398.6" x2="318.1" y2="398.6" stroke="#333" stroke-width="0.8"/>
<text x="317.25" y="427" font-size="8.2" text-anchor="end" font-weight="normal" fill="#333333" transform="rotate(-45 317.25 427)">Serine</text>
<rect x="322.75" y="400.1" width="3.5" height="18.3" fill="#c92337"/>
<line x1="324.5" y1="398.5" x2="324.5" y2="400.1" stroke="#333" stroke-width="0.8"/>
<line x1="323.35" y1="398.5" x2="325.65" y2="398.5" stroke="#333" stroke-width="0.8"/>
<rect x="328.15" y="407" width="3.6" height="11.4" fill="#11508a"/>
<line x1="329.95" y1="404.8" x2="329.95" y2="407" stroke="#333" stroke-width="0.8"/>
<line x1="328.75" y1="404.8" x2="331.15" y2="404.8" stroke="#333" stroke-width="0.8"/>
<text x="330.3" y="427" font-size="8.2" text-anchor="end" font-weight="normal" fill="#333333" transform="rotate(-45 330.3 427)">Alpha-ketoglutarate</text>
<rect x="335.8" y="400.1" width="3.5" height="18.3" fill="#c92337"/>
<line x1="337.55" y1="398.5" x2="337.55" y2="400.1" stroke="#333" stroke-width="0.8"/>
<line x1="336.4" y1="398.5" x2="338.7" y2="398.5" stroke="#333" stroke-width="0.8"/>
<rect x="341.2" y="392.5" width="3.6" height="25.9" fill="#11508a"/>
<line x1="343" y1="390.3" x2="343" y2="392.5" stroke="#333" stroke-width="0.8"/>
<line x1="341.8" y1="390.3" x2="344.2" y2="390.3" stroke="#333" stroke-width="0.8"/>
<polygon points="343,366.7 343.58,368.1 345.09,368.22 343.94,369.21 344.29,370.68 343,369.89 341.71,370.68 342.06,369.21 340.91,368.22 342.42,368.1" fill="#222"/>
<text x="343.35" y="427" font-size="8.2" text-anchor="end" font-weight="normal" fill="#333333" transform="rotate(-45 343.35 427)">Malate</text>
<line x1="43.7" y1="418.4" x2="346.3" y2="418.4" stroke="#333333" stroke-width="1.2"/>
<line x1="53.15" y1="418.4" x2="53.15" y2="420.6" stroke="#333333" stroke-width="0.96"/>
<line x1="66.2" y1="418.4" x2="66.2" y2="420.6" stroke="#333333" stroke-width="0.96"/>
<line x1="79.25" y1="418.4" x2="79.25" y2="420.6" stroke="#333333" stroke-width="0.96"/>
<line x1="92.3" y1="418.4" x2="92.3" y2="420.6" stroke="#333333" stroke-width="0.96"/>
<line x1="105.35" y1="418.4" x2="105.35" y2="420.6" stroke="#333333" stroke-width="0.96"/>
<line x1="118.4" y1="418.4" x2="118.4" y2="420.6" stroke="#333333" stroke-width="0.96"/>
<line x1="131.45" y1="418.4" x2="131.45" y2="420.6" stroke="#333333" stroke-width="0.96"/>
<line x1="144.5" y1="418.4" x2="144.5" y2="420.6" stroke="#333333" stroke-width="0.96"/>
<line x1="157.55" y1="418.4" x2="157.55" y2="420.6" stroke="#333333" stroke-width="0.96"/>
<line x1="170.6" y1="418.4" x2="170.6" y2="420.6" stroke="#333333" stroke-width="0.96"/>
<line x1="183.65" y1="418.4" x2="183.65" y2="420.6" stroke="#333333" stroke-width="0.96"/>
<line x1="196.7" y1="418.4" x2="196.7" y2="420.6" stroke="#333333" stroke-width="0.96"/>
<line x1="209.75" y1="418.4" x2="209.75" y2="420.6" stroke="#333333" stroke-width="0.96"/>
<line x1="222.8" y1="418.4" x2="222.8" y2="420.6" stroke="#333333" stroke-width="0.96"/>
<line x1="235.85" y1="418.4" x2="235.85" y2="420.6" stroke="#333333" stroke-width="0.96"/>
<line x1="248.9" y1="418.4" x2="248.9" y2="420.6" stroke="#333333" stroke-width="0.96"/>
<line x1="261.95" y1="418.4" x2="261.95" y2="420.6" stroke="#333333" stroke-width="0.96"/>
<line x1="275" y1="418.4" x2="275" y2="420.6" stroke="#333333" stroke-width="0.96"/>
<line x1="288.05" y1="418.4" x2="288.05" y2="420.6" stroke="#333333" stroke-width="0.96"/>
<line x1="301.1" y1="418.4" x2="301.1" y2="420.6" stroke="#333333" stroke-width="0.96"/>
<line x1="314.15" y1="418.4" x2="314.15" y2="420.6" stroke="#333333" stroke-width="0.96"/>
<line x1="327.2" y1="418.4" x2="327.2" y2="420.6" stroke="#333333" stroke-width="0.96"/>
<line x1="340.25" y1="418.4" x2="340.25" y2="420.6" stroke="#333333" stroke-width="0.96"/>
<rect x="221.3" y="343" width="8" height="4" fill="#c92337"/>
<text x="233.8" y="347.9" font-size="8.6" text-anchor="start" font-weight="normal" fill="#333333" textLength="25" lengthAdjust="spacingAndGlyphs">Control</text>
<rect x="264.5" y="343" width="8" height="4" fill="#11508a"/>
<text x="276.3" y="347.9" font-size="8.6" text-anchor="start" font-weight="normal" fill="#333333" textLength="33.5" lengthAdjust="spacingAndGlyphs">MCT4-OE</text>
<text x="354.5" y="321.7" font-size="10.5" text-anchor="start" font-weight="bold" fill="#111">G</text>
<circle cx="396.3" cy="333.8" r="1.5" fill="#cc1235"/>
<text x="400.7" y="336.7" font-size="8.6" text-anchor="start" font-weight="normal" fill="#333333" textLength="25" lengthAdjust="spacingAndGlyphs">Control</text>
<rect x="431.15" y="332.45" width="2.7" height="2.7" fill="#0d4a85"/>
<text x="436.8" y="336.7" font-size="8.6" text-anchor="start" font-weight="normal" fill="#333333" textLength="33.5" lengthAdjust="spacingAndGlyphs">MCT4-OE</text>
<polygon points="476.3,332.09 474.65,335.08 477.95,335.08" fill="#33b04a"/>
<text x="480.7" y="336.7" font-size="8.6" text-anchor="start" font-weight="normal" fill="#333333" textLength="33" lengthAdjust="spacingAndGlyphs">NHE1-OE</text>
<line x1="392.8" y1="338.3" x2="392.8" y2="417.4" stroke="#333333" stroke-width="1.3"/>
<line x1="389.8" y1="338.8" x2="392.8" y2="338.8" stroke="#333333" stroke-width="1.04"/>
<text x="387" y="341.68" font-size="8.6" text-anchor="end" font-weight="normal" fill="#333333" textLength="8.9" lengthAdjust="spacingAndGlyphs">80</text>
<line x1="389.8" y1="358.5" x2="392.8" y2="358.5" stroke="#333333" stroke-width="1.04"/>
<text x="387" y="361.38" font-size="8.6" text-anchor="end" font-weight="normal" fill="#333333" textLength="8.9" lengthAdjust="spacingAndGlyphs">60</text>
<line x1="389.8" y1="378.1" x2="392.8" y2="378.1" stroke="#333333" stroke-width="1.04"/>
<text x="387" y="380.98" font-size="8.6" text-anchor="end" font-weight="normal" fill="#333333" textLength="8.9" lengthAdjust="spacingAndGlyphs">40</text>
<line x1="389.8" y1="397.7" x2="392.8" y2="397.7" stroke="#333333" stroke-width="1.04"/>
<text x="387" y="400.58" font-size="8.6" text-anchor="end" font-weight="normal" fill="#333333" textLength="8.9" lengthAdjust="spacingAndGlyphs">20</text>
<line x1="389.8" y1="417.4" x2="392.8" y2="417.4" stroke="#333333" stroke-width="1.04"/>
<text x="387" y="420.28" font-size="8.6" text-anchor="end" font-weight="normal" fill="#333333" textLength="4.45" lengthAdjust="spacingAndGlyphs">0</text>
<text x="363" y="378" font-size="8.6" text-anchor="middle" font-weight="normal" fill="#333333" transform="rotate(-90 363 378)" textLength="96" lengthAdjust="spacingAndGlyphs">% Cell population normalized</text>
<text x="376" y="378.5" font-size="8.6" text-anchor="middle" font-weight="normal" fill="#333333" transform="rotate(-90 376 378.5)" textLength="55" lengthAdjust="spacingAndGlyphs">by human CD45</text>
<line x1="392.15" y1="417.4" x2="511.5" y2="417.4" stroke="#333333" stroke-width="1.3"/>
<line x1="404.9" y1="417.4" x2="404.9" y2="420.6" stroke="#333333" stroke-width="1.04"/>
<line x1="428.5" y1="417.4" x2="428.5" y2="420.6" stroke="#333333" stroke-width="1.04"/>
<line x1="452.3" y1="417.4" x2="452.3" y2="420.6" stroke="#333333" stroke-width="1.04"/>
<line x1="476" y1="417.4" x2="476" y2="420.6" stroke="#333333" stroke-width="1.04"/>
<line x1="500.3" y1="417.4" x2="500.3" y2="420.6" stroke="#333333" stroke-width="1.04"/>
<text x="404.9" y="430" font-size="8.6" text-anchor="middle" font-weight="normal" fill="#333333" textLength="20.49" lengthAdjust="spacingAndGlyphs">HSC1</text>
<text x="428.5" y="430" font-size="8.6" text-anchor="middle" font-weight="normal" fill="#333333" textLength="20.49" lengthAdjust="spacingAndGlyphs">HSC2</text>
<text x="452.3" y="430" font-size="8.6" text-anchor="middle" font-weight="normal" fill="#333333" textLength="16.64" lengthAdjust="spacingAndGlyphs">MPP</text>
<text x="476" y="430" font-size="8.6" text-anchor="middle" font-weight="normal" fill="#333333" textLength="17.49" lengthAdjust="spacingAndGlyphs">GMP</text>
<text x="500.3" y="430" font-size="8.6" text-anchor="middle" font-weight="normal" fill="#333333" textLength="14.94" lengthAdjust="spacingAndGlyphs">CLP</text>
<line x1="395" y1="414.33" x2="402" y2="414.33" stroke="#cc1235" stroke-width="0.6"/>
<circle cx="398.5" cy="412" r="1.7" fill="#cc1235"/>
<circle cx="398.5" cy="415" r="1.7" fill="#cc1235"/>
<circle cx="398.5" cy="416" r="1.7" fill="#cc1235"/>
<line x1="401.5" y1="415.25" x2="408.5" y2="415.25" stroke="#0d4a85" stroke-width="0.6"/>
<rect x="403.47" y="412.97" width="3.06" height="3.06" fill="#0d4a85"/>
<rect x="403.47" y="414.47" width="3.06" height="3.06" fill="#0d4a85"/>
<line x1="408" y1="415.65" x2="415" y2="415.65" stroke="#33b04a" stroke-width="0.6"/>
<polygon points="411.5,413.06 409.63,416.45 413.37,416.45" fill="#33b04a"/>
<polygon points="411.5,414.36 409.63,417.75 413.37,417.75" fill="#33b04a"/>
<line x1="418.5" y1="414.75" x2="425.5" y2="414.75" stroke="#cc1235" stroke-width="0.6"/>
<circle cx="422" cy="413.5" r="1.7" fill="#cc1235"/>
<circle cx="422" cy="416" r="1.7" fill="#cc1235"/>
<line x1="425" y1="415.25" x2="432" y2="415.25" stroke="#0d4a85" stroke-width="0.6"/>
<rect x="426.97" y="412.97" width="3.06" height="3.06" fill="#0d4a85"/>
<rect x="426.97" y="414.47" width="3.06" height="3.06" fill="#0d4a85"/>
<line x1="431.9" y1="416.5" x2="438.9" y2="416.5" stroke="#33b04a" stroke-width="0.6"/>
<polygon points="435.4,414.56 433.53,417.95 437.27,417.95" fill="#33b04a"/>
<line x1="441.9" y1="412.5" x2="448.9" y2="412.5" stroke="#cc1235" stroke-width="0.6"/>
<circle cx="445.4" cy="409.5" r="1.7" fill="#cc1235"/>
<circle cx="445.4" cy="412.5" r="1.7" fill="#cc1235"/>
<circle cx="445.4" cy="415.5" r="1.7" fill="#cc1235"/>
<line x1="448.8" y1="414.33" x2="455.8" y2="414.33" stroke="#0d4a85" stroke-width="0.6"/>
<rect x="450.77" y="410.97" width="3.06" height="3.06" fill="#0d4a85"/>
<rect x="450.77" y="412.97" width="3.06" height="3.06" fill="#0d4a85"/>
<rect x="450.77" y="414.47" width="3.06" height="3.06" fill="#0d4a85"/>
<line x1="455.4" y1="413.33" x2="462.4" y2="413.33" stroke="#33b04a" stroke-width="0.6"/>
<polygon points="458.9,408.56 457.03,411.95 460.77,411.95" fill="#33b04a"/>
<polygon points="458.9,411.56 457.03,414.95 460.77,414.95" fill="#33b04a"/>
<polygon points="458.9,414.06 457.03,417.45 460.77,417.45" fill="#33b04a"/>
<line x1="466.3" y1="409.93" x2="473.3" y2="409.93" stroke="#cc1235" stroke-width="0.6"/>
<circle cx="469.8" cy="408" r="1.7" fill="#cc1235"/>
<circle cx="469.8" cy="410.5" r="1.7" fill="#cc1235"/>
<circle cx="469.8" cy="411.3" r="1.7" fill="#cc1235"/>
<line x1="472" y1="404.1" x2="479" y2="404.1" stroke="#0d4a85" stroke-width="0.6"/>
<rect x="473.97" y="399.77" width="3.06" height="3.06" fill="#0d4a85"/>
<rect x="473.97" y="402.27" width="3.06" height="3.06" fill="#0d4a85"/>
<rect x="473.97" y="404.77" width="3.06" height="3.06" fill="#0d4a85"/>
<rect x="473.97" y="403.47" width="3.06" height="3.06" fill="#0d4a85"/>
<line x1="478.5" y1="406.77" x2="485.5" y2="406.77" stroke="#33b04a" stroke-width="0.6"/>
<polygon points="482,402.56 480.13,405.95 483.87,405.95" fill="#33b04a"/>
<polygon points="482,405.06 480.13,408.45 483.87,408.45" fill="#33b04a"/>
<polygon points="482,406.86 480.13,410.25 483.87,410.25" fill="#33b04a"/>
<line x1="490.3" y1="371.88" x2="497.3" y2="371.88" stroke="#cc1235" stroke-width="0.6"/>
<circle cx="493.8" cy="363.8" r="1.7" fill="#cc1235"/>
<circle cx="493.8" cy="367.5" r="1.7" fill="#cc1235"/>
<circle cx="493.8" cy="373.8" r="1.7" fill="#cc1235"/>
<circle cx="493.8" cy="378.3" r="1.7" fill="#cc1235"/>
<circle cx="493.8" cy="376" r="1.7" fill="#cc1235"/>
<line x1="496.5" y1="374" x2="503.5" y2="374" stroke="#0d4a85" stroke-width="0.6"/>
<rect x="498.47" y="363.47" width="3.06" height="3.06" fill="#0d4a85"/>
<rect x="498.47" y="371.47" width="3.06" height="3.06" fill="#0d4a85"/>
<rect x="498.47" y="375.97" width="3.06" height="3.06" fill="#0d4a85"/>
<rect x="498.47" y="385.97" width="3.06" height="3.06" fill="#0d4a85"/>
<rect x="498.47" y="365.47" width="3.06" height="3.06" fill="#0d4a85"/>
<line x1="503.3" y1="368.86" x2="510.3" y2="368.86" stroke="#33b04a" stroke-width="0.6"/>
<polygon points="506.8,355.06 504.93,358.45 508.67,358.45" fill="#33b04a"/>
<polygon points="506.8,364.36 504.93,367.75 508.67,367.75" fill="#33b04a"/>
<polygon points="506.8,370.56 504.93,373.95 508.67,373.95" fill="#33b04a"/>
<polygon points="506.8,377.56 504.93,380.95 508.67,380.95" fill="#33b04a"/>
<polygon points="506.8,367.06 504.93,370.45 508.67,370.45" fill="#33b04a"/>
<polyline points="469.3,402 469.3,391.3 475.5,391.3 475.5,393" fill="none" stroke="#444" stroke-width="0.9"/>
<polygon points="470.25,385.8 470.83,387.2 472.34,387.32 471.19,388.31 471.54,389.78 470.25,388.99 468.96,389.78 469.31,388.31 468.16,387.32 469.67,387.2" fill="#222"/>
<polygon points="474.55,385.8 475.13,387.2 476.64,387.32 475.49,388.31 475.84,389.78 474.55,388.99 473.26,389.78 473.61,388.31 472.46,387.32 473.97,387.2" fill="#222"/>
<polyline points="469.3,389 469.3,383.8 482.5,383.8 482.5,402" fill="none" stroke="#444" stroke-width="0.9"/>
<polygon points="475.5,377.5 476.08,378.9 477.59,379.02 476.44,380.01 476.79,381.48 475.5,380.69 474.21,381.48 474.56,380.01 473.41,379.02 474.92,378.9" fill="#222"/>
<text x="8.5" y="496.5" font-size="10.5" text-anchor="start" font-weight="bold" fill="#111">H</text>
<circle cx="40" cy="504.5" r="1.5" fill="#cc1235"/>
<text x="44.5" y="507.4" font-size="8.6" text-anchor="start" font-weight="normal" fill="#333333" textLength="25" lengthAdjust="spacingAndGlyphs">Control</text>
<rect x="74.95" y="503.15" width="2.7" height="2.7" fill="#0d4a85"/>
<text x="80.5" y="507.4" font-size="8.6" text-anchor="start" font-weight="normal" fill="#333333" textLength="33.5" lengthAdjust="spacingAndGlyphs">MCT4-OE</text>
<polygon points="120,502.79 118.35,505.78 121.65,505.78" fill="#33b04a"/>
<text x="124.5" y="507.4" font-size="8.6" text-anchor="start" font-weight="normal" fill="#333333" textLength="33" lengthAdjust="spacingAndGlyphs">NHE1-OE</text>
<line x1="44.5" y1="515.3" x2="44.5" y2="593.8" stroke="#333333" stroke-width="1.3"/>
<line x1="41.5" y1="515.8" x2="44.5" y2="515.8" stroke="#333333" stroke-width="1.04"/>
<text x="38.8" y="518.68" font-size="8.6" text-anchor="end" font-weight="normal" fill="#333333" textLength="11.12" lengthAdjust="spacingAndGlyphs">7.8</text>
<line x1="41.5" y1="531.4" x2="44.5" y2="531.4" stroke="#333333" stroke-width="1.04"/>
<text x="38.8" y="534.28" font-size="8.6" text-anchor="end" font-weight="normal" fill="#333333" textLength="11.12" lengthAdjust="spacingAndGlyphs">7.6</text>
<line x1="41.5" y1="547" x2="44.5" y2="547" stroke="#333333" stroke-width="1.04"/>
<text x="38.8" y="549.88" font-size="8.6" text-anchor="end" font-weight="normal" fill="#333333" textLength="11.12" lengthAdjust="spacingAndGlyphs">7.4</text>
<line x1="41.5" y1="562.6" x2="44.5" y2="562.6" stroke="#333333" stroke-width="1.04"/>
<text x="38.8" y="565.48" font-size="8.6" text-anchor="end" font-weight="normal" fill="#333333" textLength="11.12" lengthAdjust="spacingAndGlyphs">7.2</text>
<line x1="41.5" y1="578.2" x2="44.5" y2="578.2" stroke="#333333" stroke-width="1.04"/>
<text x="38.8" y="581.08" font-size="8.6" text-anchor="end" font-weight="normal" fill="#333333" textLength="11.12" lengthAdjust="spacingAndGlyphs">7.0</text>
<line x1="41.5" y1="593.8" x2="44.5" y2="593.8" stroke="#333333" stroke-width="1.04"/>
<text x="38.8" y="596.68" font-size="8.6" text-anchor="end" font-weight="normal" fill="#333333" textLength="11.12" lengthAdjust="spacingAndGlyphs">6.8</text>
<text x="19.6" y="553.8" font-size="9" text-anchor="middle" font-weight="normal" fill="#333333" transform="rotate(-90 19.6 553.8)" textLength="13" lengthAdjust="spacingAndGlyphs">pHi</text>
<line x1="43.85" y1="593.8" x2="121.7" y2="593.8" stroke="#333333" stroke-width="1.3"/>
<line x1="62.8" y1="593.8" x2="62.8" y2="597" stroke="#333333" stroke-width="1.04"/>
<line x1="103.2" y1="593.8" x2="103.2" y2="597" stroke="#333333" stroke-width="1.04"/>
<text x="62.8" y="605.5" font-size="8.6" text-anchor="middle" font-weight="normal" fill="#333333" textLength="16.22" lengthAdjust="spacingAndGlyphs">HSC</text>
<text x="103.5" y="605.5" font-size="8.6" text-anchor="middle" font-weight="normal" fill="#333333" textLength="17.49" lengthAdjust="spacingAndGlyphs">GMP</text>
<line x1="47.4" y1="560.5" x2="55.4" y2="560.5" stroke="#cc1235" stroke-width="0.8"/>
<line x1="51.4" y1="557.8" x2="51.4" y2="563.3" stroke="#cc1235" stroke-width="0.8"/>
<line x1="49.8" y1="557.8" x2="53" y2="557.8" stroke="#cc1235" stroke-width="0.8"/>
<line x1="49.8" y1="563.3" x2="53" y2="563.3" stroke="#cc1235" stroke-width="0.8"/>
<circle cx="51.4" cy="548.2" r="1.85" fill="#cc1235"/>
<circle cx="51.4" cy="555.4" r="1.85" fill="#cc1235"/>
<circle cx="51.4" cy="562.3" r="1.85" fill="#cc1235"/>
<circle cx="49.2" cy="568.2" r="1.85" fill="#cc1235"/>
<circle cx="53.6" cy="568.2" r="1.85" fill="#cc1235"/>
<line x1="58.5" y1="556.9" x2="66.5" y2="556.9" stroke="#0d4a85" stroke-width="0.8"/>
<line x1="62.5" y1="552.5" x2="62.5" y2="561.5" stroke="#0d4a85" stroke-width="0.8"/>
<line x1="60.9" y1="552.5" x2="64.1" y2="552.5" stroke="#0d4a85" stroke-width="0.8"/>
<line x1="60.9" y1="561.5" x2="64.1" y2="561.5" stroke="#0d4a85" stroke-width="0.8"/>
<rect x="60.84" y="545.24" width="3.33" height="3.33" fill="#0d4a85"/>
<rect x="58.13" y="553.74" width="3.33" height="3.33" fill="#0d4a85"/>
<rect x="63.54" y="553.74" width="3.33" height="3.33" fill="#0d4a85"/>
<rect x="60.84" y="561.84" width="3.33" height="3.33" fill="#0d4a85"/>
<rect x="60.84" y="566.54" width="3.33" height="3.33" fill="#0d4a85"/>
<line x1="70" y1="556.9" x2="78" y2="556.9" stroke="#33b04a" stroke-width="0.8"/>
<line x1="74" y1="553.5" x2="74" y2="560.5" stroke="#33b04a" stroke-width="0.8"/>
<line x1="72.4" y1="553.5" x2="75.6" y2="553.5" stroke="#33b04a" stroke-width="0.8"/>
<line x1="72.4" y1="560.5" x2="75.6" y2="560.5" stroke="#33b04a" stroke-width="0.8"/>
<polygon points="74,545.59 71.97,549.28 76.03,549.28" fill="#33b04a"/>
<polygon points="74,552.49 71.97,556.18 76.03,556.18" fill="#33b04a"/>
<polygon points="71,555.59 68.97,559.28 73.03,559.28" fill="#33b04a"/>
<polygon points="77,555.59 74.97,559.28 79.03,559.28" fill="#33b04a"/>
<polygon points="74,565.59 71.97,569.28 76.03,569.28" fill="#33b04a"/>
<line x1="88.5" y1="559.5" x2="96.5" y2="559.5" stroke="#cc1235" stroke-width="0.8"/>
<line x1="92.5" y1="557.5" x2="92.5" y2="561.5" stroke="#cc1235" stroke-width="0.8"/>
<line x1="90.9" y1="557.5" x2="94.1" y2="557.5" stroke="#cc1235" stroke-width="0.8"/>
<line x1="90.9" y1="561.5" x2="94.1" y2="561.5" stroke="#cc1235" stroke-width="0.8"/>
<circle cx="92.5" cy="545.4" r="1.85" fill="#cc1235"/>
<circle cx="92.5" cy="556.2" r="1.85" fill="#cc1235"/>
<circle cx="88.5" cy="560.8" r="1.85" fill="#cc1235"/>
<circle cx="96.5" cy="560.8" r="1.85" fill="#cc1235"/>
<circle cx="92.5" cy="562.3" r="1.85" fill="#cc1235"/>
<circle cx="92.5" cy="570.8" r="1.85" fill="#cc1235"/>
<line x1="99.7" y1="544.6" x2="107.7" y2="544.6" stroke="#0d4a85" stroke-width="0.8"/>
<line x1="103.7" y1="543" x2="103.7" y2="546.2" stroke="#0d4a85" stroke-width="0.8"/>
<line x1="102.1" y1="543" x2="105.3" y2="543" stroke="#0d4a85" stroke-width="0.8"/>
<line x1="102.1" y1="546.2" x2="105.3" y2="546.2" stroke="#0d4a85" stroke-width="0.8"/>
<rect x="98.33" y="539.84" width="3.33" height="3.33" fill="#0d4a85"/>
<rect x="104.33" y="541.44" width="3.33" height="3.33" fill="#0d4a85"/>
<rect x="102.03" y="542.94" width="3.33" height="3.33" fill="#0d4a85"/>
<rect x="104.83" y="544.54" width="3.33" height="3.33" fill="#0d4a85"/>
<rect x="98.33" y="547.54" width="3.33" height="3.33" fill="#0d4a85"/>
<line x1="110.8" y1="540" x2="118.8" y2="540" stroke="#33b04a" stroke-width="0.8"/>
<line x1="114.8" y1="537.5" x2="114.8" y2="542.5" stroke="#33b04a" stroke-width="0.8"/>
<line x1="113.2" y1="537.5" x2="116.4" y2="537.5" stroke="#33b04a" stroke-width="0.8"/>
<line x1="113.2" y1="542.5" x2="116.4" y2="542.5" stroke="#33b04a" stroke-width="0.8"/>
<polygon points="114.8,529.39 112.77,533.08 116.83,533.08" fill="#33b04a"/>
<polygon points="111.2,536.39 109.17,540.08 113.23,540.08" fill="#33b04a"/>
<polygon points="118.2,536.39 116.17,540.08 120.23,540.08" fill="#33b04a"/>
<polygon points="111.2,544.79 109.17,548.48 113.23,548.48" fill="#33b04a"/>
<polygon points="118.2,544.79 116.17,548.48 120.23,548.48" fill="#33b04a"/>
<polyline points="92.2,540 92.2,530 103.5,530 103.5,533.1" fill="none" stroke="#444" stroke-width="0.9"/>
<polygon points="97.8,524.5 98.38,525.9 99.89,526.02 98.74,527.01 99.09,528.48 97.8,527.69 96.51,528.48 96.86,527.01 95.71,526.02 97.22,525.9" fill="#222"/>
<polyline points="92.2,525.4 92.2,521.5 114.8,521.5 114.8,526.2" fill="none" stroke="#444" stroke-width="0.9"/>
<polygon points="101.35,516.3 101.93,517.7 103.44,517.82 102.29,518.81 102.64,520.28 101.35,519.49 100.06,520.28 100.41,518.81 99.26,517.82 100.77,517.7" fill="#222"/>
<polygon points="105.65,516.3 106.23,517.7 107.74,517.82 106.59,518.81 106.94,520.28 105.65,519.49 104.36,520.28 104.71,518.81 103.56,517.82 105.07,517.7" fill="#222"/>
<text x="169.5" y="496.5" font-size="10.5" text-anchor="start" font-weight="bold" fill="#111">I</text>
<circle cx="178.8" cy="504.5" r="1.5" fill="#cc1235"/>
<text x="182.5" y="507.4" font-size="8.6" text-anchor="start" font-weight="normal" fill="#333333" textLength="25" lengthAdjust="spacingAndGlyphs">Control</text>
<rect x="213.15" y="503.15" width="2.7" height="2.7" fill="#0d4a85"/>
<text x="218.8" y="507.4" font-size="8.6" text-anchor="start" font-weight="normal" fill="#333333" textLength="33.5" lengthAdjust="spacingAndGlyphs">MCT4-OE</text>
<polygon points="259.5,502.79 257.85,505.78 261.15,505.78" fill="#33b04a"/>
<text x="263" y="507.4" font-size="8.6" text-anchor="start" font-weight="normal" fill="#333333" textLength="33" lengthAdjust="spacingAndGlyphs">NHE1-OE</text>
<line x1="191.3" y1="515.3" x2="191.3" y2="593.8" stroke="#333333" stroke-width="1.3"/>
<line x1="188.3" y1="515.8" x2="191.3" y2="515.8" stroke="#333333" stroke-width="1.04"/>
<text x="185.8" y="518.68" font-size="8.6" text-anchor="end" font-weight="normal" fill="#333333" textLength="8.9" lengthAdjust="spacingAndGlyphs">30</text>
<line x1="188.3" y1="541.8" x2="191.3" y2="541.8" stroke="#333333" stroke-width="1.04"/>
<text x="185.8" y="544.68" font-size="8.6" text-anchor="end" font-weight="normal" fill="#333333" textLength="8.9" lengthAdjust="spacingAndGlyphs">20</text>
<line x1="188.3" y1="567.8" x2="191.3" y2="567.8" stroke="#333333" stroke-width="1.04"/>
<text x="185.8" y="570.68" font-size="8.6" text-anchor="end" font-weight="normal" fill="#333333" textLength="8.9" lengthAdjust="spacingAndGlyphs">10</text>
<line x1="188.3" y1="593.8" x2="191.3" y2="593.8" stroke="#333333" stroke-width="1.04"/>
<text x="185.8" y="596.68" font-size="8.6" text-anchor="end" font-weight="normal" fill="#333333" textLength="4.45" lengthAdjust="spacingAndGlyphs">0</text>
<text x="172" y="554.5" font-size="8.6" text-anchor="middle" font-weight="normal" fill="#333333" transform="rotate(-90 172 554.5)" textLength="71" lengthAdjust="spacingAndGlyphs">% BrdU incorporation</text>
<line x1="190.65" y1="593.8" x2="268.8" y2="593.8" stroke="#333333" stroke-width="1.3"/>
<line x1="209.8" y1="593.8" x2="209.8" y2="597" stroke="#333333" stroke-width="1.04"/>
<line x1="250.5" y1="593.8" x2="250.5" y2="597" stroke="#333333" stroke-width="1.04"/>
<text x="209.5" y="605.5" font-size="8.6" text-anchor="middle" font-weight="normal" fill="#333333" textLength="16.22" lengthAdjust="spacingAndGlyphs">HSC</text>
<text x="250" y="605.5" font-size="8.6" text-anchor="middle" font-weight="normal" fill="#333333" textLength="17.49" lengthAdjust="spacingAndGlyphs">GMP</text>
<line x1="194.8" y1="562.3" x2="202.8" y2="562.3" stroke="#cc1235" stroke-width="0.8"/>
<line x1="198.8" y1="553.5" x2="198.8" y2="571.5" stroke="#cc1235" stroke-width="0.8"/>
<line x1="197.2" y1="553.5" x2="200.4" y2="553.5" stroke="#cc1235" stroke-width="0.8"/>
<line x1="197.2" y1="571.5" x2="200.4" y2="571.5" stroke="#cc1235" stroke-width="0.8"/>
<circle cx="198.8" cy="522" r="1.85" fill="#cc1235"/>
<circle cx="198.8" cy="560" r="1.85" fill="#cc1235"/>
<circle cx="198.8" cy="564.6" r="1.85" fill="#cc1235"/>
<circle cx="194.8" cy="572.3" r="1.85" fill="#cc1235"/>
<circle cx="202.6" cy="572.3" r="1.85" fill="#cc1235"/>
<circle cx="198.8" cy="581.5" r="1.85" fill="#cc1235"/>
<line x1="205.7" y1="559.7" x2="213.7" y2="559.7" stroke="#0d4a85" stroke-width="0.8"/>
<line x1="209.7" y1="550.3" x2="209.7" y2="569.5" stroke="#0d4a85" stroke-width="0.8"/>
<line x1="208.1" y1="550.3" x2="211.3" y2="550.3" stroke="#0d4a85" stroke-width="0.8"/>
<line x1="208.1" y1="569.5" x2="211.3" y2="569.5" stroke="#0d4a85" stroke-width="0.8"/>
<rect x="208.03" y="530.63" width="3.33" height="3.33" fill="#0d4a85"/>
<rect x="208.03" y="556.84" width="3.33" height="3.33" fill="#0d4a85"/>
<rect x="208.03" y="569.13" width="3.33" height="3.33" fill="#0d4a85"/>
<rect x="208.03" y="576.54" width="3.33" height="3.33" fill="#0d4a85"/>
<line x1="217.2" y1="548.2" x2="225.2" y2="548.2" stroke="#33b04a" stroke-width="0.8"/>
<line x1="221.2" y1="545" x2="221.2" y2="552.3" stroke="#33b04a" stroke-width="0.8"/>
<line x1="219.6" y1="545" x2="222.8" y2="545" stroke="#33b04a" stroke-width="0.8"/>
<line x1="219.6" y1="552.3" x2="222.8" y2="552.3" stroke="#33b04a" stroke-width="0.8"/>
<polygon points="221.2,536.39 219.16,540.08 223.23,540.08" fill="#33b04a"/>
<polygon points="221.2,546.39 219.16,550.08 223.23,550.08" fill="#33b04a"/>
<polygon points="217.2,549.39 215.16,553.08 219.23,553.08" fill="#33b04a"/>
<polygon points="225.2,549.39 223.16,553.08 227.23,553.08" fill="#33b04a"/>
<line x1="235.5" y1="572.5" x2="243.5" y2="572.5" stroke="#cc1235" stroke-width="0.8"/>
<line x1="239.5" y1="571.5" x2="239.5" y2="573.5" stroke="#cc1235" stroke-width="0.8"/>
<line x1="237.9" y1="571.5" x2="241.1" y2="571.5" stroke="#cc1235" stroke-width="0.8"/>
<line x1="237.9" y1="573.5" x2="241.1" y2="573.5" stroke="#cc1235" stroke-width="0.8"/>
<circle cx="239.5" cy="564.2" r="1.85" fill="#cc1235"/>
<circle cx="236.8" cy="572.3" r="1.85" fill="#cc1235"/>
<circle cx="242.2" cy="572.3" r="1.85" fill="#cc1235"/>
<circle cx="239.5" cy="574.5" r="1.85" fill="#cc1235"/>
<circle cx="236.8" cy="576.9" r="1.85" fill="#cc1235"/>
<circle cx="242.2" cy="576.9" r="1.85" fill="#cc1235"/>
<line x1="246.8" y1="556.9" x2="254.8" y2="556.9" stroke="#0d4a85" stroke-width="0.8"/>
<line x1="250.8" y1="552.3" x2="250.8" y2="561.5" stroke="#0d4a85" stroke-width="0.8"/>
<line x1="249.2" y1="552.3" x2="252.4" y2="552.3" stroke="#0d4a85" stroke-width="0.8"/>
<line x1="249.2" y1="561.5" x2="252.4" y2="561.5" stroke="#0d4a85" stroke-width="0.8"/>
<rect x="249.14" y="542.13" width="3.33" height="3.33" fill="#0d4a85"/>
<rect x="246.34" y="559.13" width="3.33" height="3.33" fill="#0d4a85"/>
<rect x="251.84" y="559.13" width="3.33" height="3.33" fill="#0d4a85"/>
<rect x="244.34" y="560.63" width="3.33" height="3.33" fill="#0d4a85"/>
<rect x="253.84" y="560.63" width="3.33" height="3.33" fill="#0d4a85"/>
<line x1="257.5" y1="563.5" x2="265.5" y2="563.5" stroke="#33b04a" stroke-width="0.8"/>
<line x1="261.5" y1="561" x2="261.5" y2="566" stroke="#33b04a" stroke-width="0.8"/>
<line x1="259.9" y1="561" x2="263.1" y2="561" stroke="#33b04a" stroke-width="0.8"/>
<line x1="259.9" y1="566" x2="263.1" y2="566" stroke="#33b04a" stroke-width="0.8"/>
<polygon points="260.3,558.69 258.26,562.38 262.34,562.38" fill="#33b04a"/>
<polygon points="264.6,558.69 262.56,562.38 266.64,562.38" fill="#33b04a"/>
<polygon points="261.5,561.69 259.46,565.38 263.54,565.38" fill="#33b04a"/>
<polygon points="261.5,570.19 259.46,573.88 263.54,573.88" fill="#33b04a"/>
<polygon points="258.5,559.89 256.46,563.58 260.54,563.58" fill="#33b04a"/>
<polyline points="239.5,546.9 239.5,536.5 250.8,536.5 250.8,539.2" fill="none" stroke="#444" stroke-width="0.9"/>
<polygon points="242.95,530.7 243.53,532.1 245.04,532.22 243.89,533.21 244.24,534.68 242.95,533.89 241.66,534.68 242.01,533.21 240.86,532.22 242.37,532.1" fill="#222"/>
<polygon points="247.25,530.7 247.83,532.1 249.34,532.22 248.19,533.21 248.54,534.68 247.25,533.89 245.96,534.68 246.31,533.21 245.16,532.22 246.67,532.1" fill="#222"/>
<polyline points="239.5,531.5 239.5,528.2 261.8,528.2 261.8,546.2" fill="none" stroke="#444" stroke-width="0.9"/>
<polygon points="250.3,522.5 250.88,523.9 252.39,524.02 251.24,525.01 251.59,526.48 250.3,525.69 249.01,526.48 249.36,525.01 248.21,524.02 249.72,523.9" fill="#222"/>
<text x="303.5" y="496.5" font-size="10.5" text-anchor="start" font-weight="bold" fill="#111">J</text>
<rect x="313.8" y="502.2" width="7.5" height="4" fill="#c92337"/>
<text x="324.3" y="507.4" font-size="8.6" text-anchor="start" font-weight="normal" fill="#333333" textLength="25" lengthAdjust="spacingAndGlyphs">Control</text>
<rect x="355" y="502.2" width="8" height="4" fill="#11508a"/>
<text x="365.5" y="507.4" font-size="8.6" text-anchor="start" font-weight="normal" fill="#333333" textLength="33.5" lengthAdjust="spacingAndGlyphs">MCT4-OE</text>
<line x1="321.3" y1="515.3" x2="321.3" y2="593.8" stroke="#333333" stroke-width="1.3"/>
<line x1="318.3" y1="515.8" x2="321.3" y2="515.8" stroke="#333333" stroke-width="1.04"/>
<text x="317" y="518.68" font-size="8.6" text-anchor="end" font-weight="normal" fill="#333333" textLength="4.45" lengthAdjust="spacingAndGlyphs">5</text>
<line x1="318.3" y1="531.4" x2="321.3" y2="531.4" stroke="#333333" stroke-width="1.04"/>
<text x="317" y="534.28" font-size="8.6" text-anchor="end" font-weight="normal" fill="#333333" textLength="4.45" lengthAdjust="spacingAndGlyphs">4</text>
<line x1="318.3" y1="547" x2="321.3" y2="547" stroke="#333333" stroke-width="1.04"/>
<text x="317" y="549.88" font-size="8.6" text-anchor="end" font-weight="normal" fill="#333333" textLength="4.45" lengthAdjust="spacingAndGlyphs">3</text>
<line x1="318.3" y1="562.6" x2="321.3" y2="562.6" stroke="#333333" stroke-width="1.04"/>
<text x="317" y="565.48" font-size="8.6" text-anchor="end" font-weight="normal" fill="#333333" textLength="4.45" lengthAdjust="spacingAndGlyphs">2</text>
<line x1="318.3" y1="578.2" x2="321.3" y2="578.2" stroke="#333333" stroke-width="1.04"/>
<text x="317" y="581.08" font-size="8.6" text-anchor="end" font-weight="normal" fill="#333333" textLength="4.45" lengthAdjust="spacingAndGlyphs">1</text>
<line x1="318.3" y1="593.8" x2="321.3" y2="593.8" stroke="#333333" stroke-width="1.04"/>
<text x="317" y="596.68" font-size="8.6" text-anchor="end" font-weight="normal" fill="#333333" textLength="4.45" lengthAdjust="spacingAndGlyphs">0</text>
<text x="306.7" y="555" font-size="8.6" text-anchor="middle" font-weight="normal" fill="#333333" transform="rotate(-90 306.7 555)" textLength="70" lengthAdjust="spacingAndGlyphs">Cell number x10⁶/ml</text>
<rect x="328.8" y="562" width="10.8" height="31.8" fill="#c92337"/>
<line x1="334.2" y1="560.3" x2="334.2" y2="562" stroke="#333" stroke-width="0.9"/>
<line x1="332.2" y1="560.3" x2="336.2" y2="560.3" stroke="#333" stroke-width="0.9"/>
<rect x="366.3" y="558.8" width="10.8" height="35" fill="#c92337"/>
<line x1="371.7" y1="556.3" x2="371.7" y2="558.8" stroke="#333" stroke-width="0.9"/>
<line x1="369.7" y1="556.3" x2="373.7" y2="556.3" stroke="#333" stroke-width="0.9"/>
<rect x="344.5" y="537.5" width="11" height="56.3" fill="#11508a"/>
<line x1="350" y1="533.8" x2="350" y2="537.5" stroke="#333" stroke-width="0.9"/>
<line x1="348" y1="533.8" x2="352" y2="533.8" stroke="#333" stroke-width="0.9"/>
<rect x="382" y="536.3" width="11" height="57.5" fill="#11508a"/>
<line x1="387.5" y1="533.8" x2="387.5" y2="536.3" stroke="#333" stroke-width="0.9"/>
<line x1="385.5" y1="533.8" x2="389.5" y2="533.8" stroke="#333" stroke-width="0.9"/>
<line x1="320.65" y1="593.8" x2="400" y2="593.8" stroke="#333333" stroke-width="1.3"/>
<line x1="342" y1="593.8" x2="342" y2="597" stroke="#333333" stroke-width="1.04"/>
<line x1="379.5" y1="593.8" x2="379.5" y2="597" stroke="#333333" stroke-width="1.04"/>
<text x="342" y="606" font-size="8.6" text-anchor="middle" font-weight="normal" fill="#333333" textLength="25.18" lengthAdjust="spacingAndGlyphs">MC3T3</text>
<text x="379.5" y="606" font-size="8.6" text-anchor="middle" font-weight="normal" fill="#333333" textLength="15.36" lengthAdjust="spacingAndGlyphs">CD1</text>
<polyline points="333.8,555 333.8,522.5 350.5,522.5 350.5,527" fill="none" stroke="#444" stroke-width="0.9"/>
<polygon points="339.85,517.3 340.43,518.7 341.94,518.82 340.79,519.81 341.14,521.28 339.85,520.49 338.56,521.28 338.91,519.81 337.76,518.82 339.27,518.7" fill="#222"/>
<polygon points="344.15,517.3 344.73,518.7 346.24,518.82 345.09,519.81 345.44,521.28 344.15,520.49 342.86,521.28 343.21,519.81 342.06,518.82 343.57,518.7" fill="#222"/>
<polyline points="371.8,553.8 371.8,522.5 388,522.5 388,527" fill="none" stroke="#444" stroke-width="0.9"/>
<polygon points="377.35,517.3 377.93,518.7 379.44,518.82 378.29,519.81 378.64,521.28 377.35,520.49 376.06,521.28 376.41,519.81 375.26,518.82 376.77,518.7" fill="#222"/>
<polygon points="381.65,517.3 382.23,518.7 383.74,518.82 382.59,519.81 382.94,521.28 381.65,520.49 380.36,521.28 380.71,519.81 379.56,518.82 381.07,518.7" fill="#222"/>
<text x="411.8" y="496.5" font-size="10.5" text-anchor="start" font-weight="bold" fill="#111">K</text>
<rect x="422" y="502.2" width="8" height="4" fill="#c92337"/>
<text x="432" y="507.4" font-size="8.6" text-anchor="start" font-weight="normal" fill="#333333" textLength="25" lengthAdjust="spacingAndGlyphs">Control</text>
<rect x="463" y="502.2" width="8.3" height="4" fill="#11508a"/>
<text x="473.8" y="507.4" font-size="8.6" text-anchor="start" font-weight="normal" fill="#333333" textLength="33.5" lengthAdjust="spacingAndGlyphs">MCT4-OE</text>
<line x1="435" y1="515.8" x2="435" y2="594.3" stroke="#333333" stroke-width="1.3"/>
<line x1="432" y1="516.3" x2="435" y2="516.3" stroke="#333333" stroke-width="1.04"/>
<text x="429.7" y="519.18" font-size="8.6" text-anchor="end" font-weight="normal" fill="#333333" textLength="11.12" lengthAdjust="spacingAndGlyphs">8.0</text>
<line x1="432" y1="529.3" x2="435" y2="529.3" stroke="#333333" stroke-width="1.04"/>
<text x="429.7" y="532.18" font-size="8.6" text-anchor="end" font-weight="normal" fill="#333333" textLength="11.12" lengthAdjust="spacingAndGlyphs">7.8</text>
<line x1="432" y1="542.3" x2="435" y2="542.3" stroke="#333333" stroke-width="1.04"/>
<text x="429.7" y="545.18" font-size="8.6" text-anchor="end" font-weight="normal" fill="#333333" textLength="11.12" lengthAdjust="spacingAndGlyphs">7.6</text>
<line x1="432" y1="555.3" x2="435" y2="555.3" stroke="#333333" stroke-width="1.04"/>
<text x="429.7" y="558.18" font-size="8.6" text-anchor="end" font-weight="normal" fill="#333333" textLength="11.12" lengthAdjust="spacingAndGlyphs">7.4</text>
<line x1="432" y1="568.3" x2="435" y2="568.3" stroke="#333333" stroke-width="1.04"/>
<text x="429.7" y="571.18" font-size="8.6" text-anchor="end" font-weight="normal" fill="#333333" textLength="11.12" lengthAdjust="spacingAndGlyphs">7.2</text>
<line x1="432" y1="581.3" x2="435" y2="581.3" stroke="#333333" stroke-width="1.04"/>
<text x="429.7" y="584.18" font-size="8.6" text-anchor="end" font-weight="normal" fill="#333333" textLength="11.12" lengthAdjust="spacingAndGlyphs">7.0</text>
<line x1="432" y1="594.3" x2="435" y2="594.3" stroke="#333333" stroke-width="1.04"/>
<text x="429.7" y="597.18" font-size="8.6" text-anchor="end" font-weight="normal" fill="#333333" textLength="11.12" lengthAdjust="spacingAndGlyphs">6.8</text>
<text x="414.8" y="553.8" font-size="9" text-anchor="middle" font-weight="normal" fill="#333333" transform="rotate(-90 414.8 553.8)" textLength="13" lengthAdjust="spacingAndGlyphs">pHi</text>
<rect x="441.3" y="568.3" width="11.2" height="26" fill="#c92337"/>
<line x1="446.9" y1="563.8" x2="446.9" y2="568.3" stroke="#333" stroke-width="0.9"/>
<line x1="444.9" y1="563.8" x2="448.9" y2="563.8" stroke="#333" stroke-width="0.9"/>
<rect x="479.5" y="579.5" width="11.2" height="14.8" fill="#c92337"/>
<line x1="485.1" y1="574.5" x2="485.1" y2="579.5" stroke="#333" stroke-width="0.9"/>
<line x1="483.1" y1="574.5" x2="487.1" y2="574.5" stroke="#333" stroke-width="0.9"/>
<rect x="457.5" y="549.5" width="11.2" height="44.8" fill="#11508a"/>
<line x1="463.1" y1="542.5" x2="463.1" y2="549.5" stroke="#333" stroke-width="0.9"/>
<line x1="461.1" y1="542.5" x2="465.1" y2="542.5" stroke="#333" stroke-width="0.9"/>
<rect x="495.5" y="547.5" width="11.2" height="46.8" fill="#11508a"/>
<line x1="501.1" y1="543.8" x2="501.1" y2="547.5" stroke="#333" stroke-width="0.9"/>
<line x1="499.1" y1="543.8" x2="503.1" y2="543.8" stroke="#333" stroke-width="0.9"/>
<line x1="434.35" y1="594.3" x2="512.5" y2="594.3" stroke="#333333" stroke-width="1.3"/>
<line x1="454.5" y1="594.3" x2="454.5" y2="597.5" stroke="#333333" stroke-width="1.04"/>
<line x1="493" y1="594.3" x2="493" y2="597.5" stroke="#333333" stroke-width="1.04"/>
<text x="454.5" y="606" font-size="8.6" text-anchor="middle" font-weight="normal" fill="#333333" textLength="25.18" lengthAdjust="spacingAndGlyphs">MC3T3</text>
<text x="493" y="606" font-size="8.6" text-anchor="middle" font-weight="normal" fill="#333333" textLength="15.36" lengthAdjust="spacingAndGlyphs">CD1</text>
<polyline points="447,558.8 447,531.3 463,531.3 463,537" fill="none" stroke="#444" stroke-width="0.9"/>
<polygon points="455,526 455.58,527.4 457.09,527.52 455.94,528.51 456.29,529.98 455,529.19 453.71,529.98 454.06,528.51 452.91,527.52 454.42,527.4" fill="#222"/>
<polyline points="484.5,566.3 484.5,531.3 500.8,531.3 500.8,537" fill="none" stroke="#444" stroke-width="0.9"/>
<polygon points="492.5,526 493.08,527.4 494.59,527.52 493.44,528.51 493.79,529.98 492.5,529.19 491.21,529.98 491.56,528.51 490.41,527.52 491.92,527.4" fill="#222"/>
<rect x="0" y="0" width="520" height="1.25" fill="#100c0d"/>
<rect x="0" y="0" width="1.2" height="615" fill="#100c0d"/>
<rect x="518.9" y="0" width="1.1" height="615" fill="#100c0d"/>
<rect x="0" y="613.5" width="520" height="1.5" fill="#100c0d"/>
</svg>
</body></html>
